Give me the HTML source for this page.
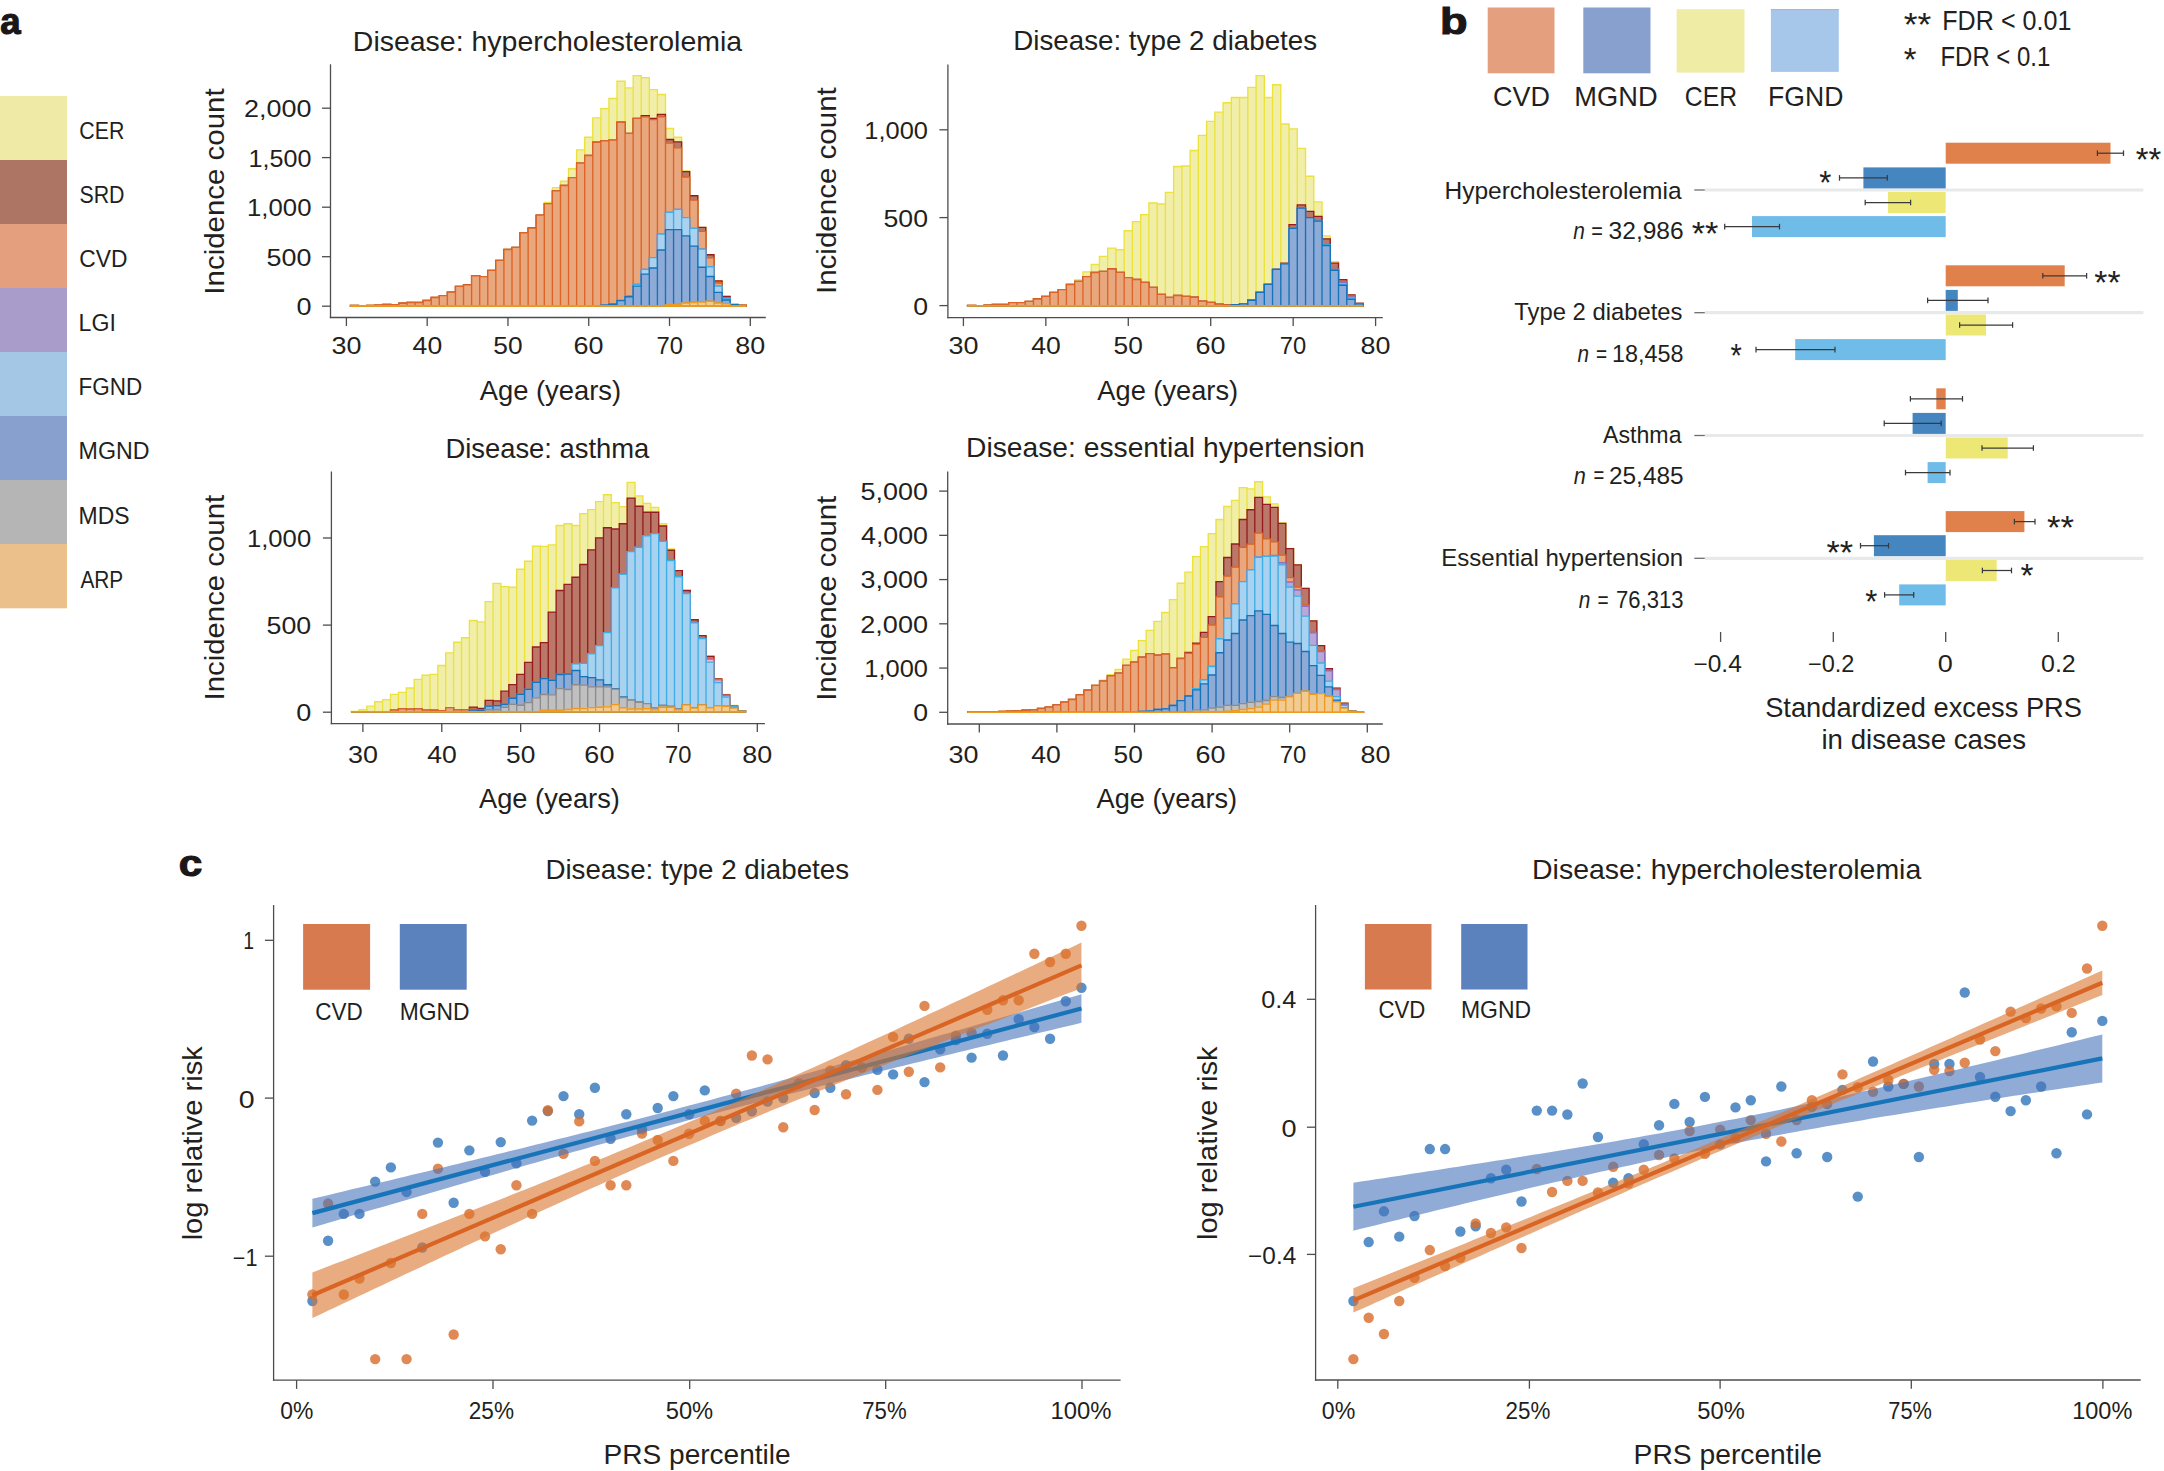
<!DOCTYPE html>
<html><head><meta charset="utf-8"><title>Figure</title>
<style>html,body{margin:0;padding:0;background:#fff;}svg{display:block;}
text{font-family:'Liberation Sans', Arial, Helvetica, sans-serif;}</style></head>
<body><svg width="2164" height="1471" viewBox="0 0 2164 1471">
<rect width="2164" height="1471" fill="#fff"/>
<rect x="0" y="96" width="67" height="64.3" fill="#efeaa6"/>
<rect x="0" y="160" width="67" height="64.3" fill="#ad7563"/>
<rect x="0" y="224" width="67" height="64.3" fill="#e4a07e"/>
<rect x="0" y="288" width="67" height="64.3" fill="#a99ccb"/>
<rect x="0" y="352" width="67" height="64.3" fill="#a5c7e6"/>
<rect x="0" y="416" width="67" height="64.3" fill="#88a0cd"/>
<rect x="0" y="480" width="67" height="64.3" fill="#b4b5b4"/>
<rect x="0" y="544" width="67" height="64.3" fill="#ecc08b"/>
<text x="79.33" y="138.9" font-size="23.5" fill="#231f20" textLength="45" lengthAdjust="spacingAndGlyphs">CER</text>
<text x="79.44" y="203" font-size="23.5" fill="#231f20" textLength="45.05" lengthAdjust="spacingAndGlyphs">SRD</text>
<text x="79.26" y="267.1" font-size="23.5" fill="#231f20" textLength="48.2" lengthAdjust="spacingAndGlyphs">CVD</text>
<text x="78.55" y="331.2" font-size="23.5" fill="#231f20" textLength="37.32" lengthAdjust="spacingAndGlyphs">LGI</text>
<text x="78.6" y="395.3" font-size="23.5" fill="#231f20" textLength="63.68" lengthAdjust="spacingAndGlyphs">FGND</text>
<text x="78.54" y="459.4" font-size="23.5" fill="#231f20" textLength="70.97" lengthAdjust="spacingAndGlyphs">MGND</text>
<text x="78.56" y="523.5" font-size="23.5" fill="#231f20" textLength="51.07" lengthAdjust="spacingAndGlyphs">MDS</text>
<text x="80.4" y="587.6" font-size="23.5" fill="#231f20" textLength="42.87" lengthAdjust="spacingAndGlyphs">ARP</text>
<text x="0.29" y="34.2" font-size="36.2" font-weight="bold" fill="#1a1718" textLength="20.38" lengthAdjust="spacingAndGlyphs" stroke="#1a1718" stroke-width="1.1">a</text>
<text x="1440.07" y="33.7" font-size="37.3" font-weight="bold" fill="#1a1718" textLength="27.58" lengthAdjust="spacingAndGlyphs" stroke="#1a1718" stroke-width="1.1">b</text>
<text x="178.82" y="875.7" font-size="37" font-weight="bold" fill="#1a1718" textLength="23.5" lengthAdjust="spacingAndGlyphs" stroke="#1a1718" stroke-width="1.1">c</text>
<path d="M350.44 306V305.47H358.52V306ZM358.52 306V305.67H366.59V306ZM366.59 306V305.47H374.67V306ZM374.67 306V305.17H382.75V306ZM382.75 306V304.47H390.83V306ZM390.83 306V304.77H398.91V306ZM398.91 306V303.27H406.98V306ZM406.98 306V302.47H415.06V306ZM415.06 306V302.47H423.14V306ZM423.14 306V300.47H431.22V306ZM431.22 306V297.47H439.3V306ZM439.3 306V295.68H447.37V306ZM447.38 306V292.14H455.45V306ZM455.45 306V286.31H463.53V306ZM463.53 306V284.89H471.61V306ZM471.61 306V275.7H479.69V306ZM479.69 306V276.58H487.76V306ZM487.76 306V270.4H495.84V306ZM495.84 306V260.32H503.92V306ZM503.92 306V249.53H512V306ZM512 306V247.41H520.08V306ZM520.08 306V232.74H528.15V306ZM528.15 306V227.96H536.23V306ZM536.23 306V215.06H544.31V306ZM544.31 306V202.33H552.39V306ZM552.39 306V187.65H560.47V306ZM560.47 306V181.11H568.54V306ZM568.54 306V168.73H576.62V306ZM576.62 306V149.82H584.7V306ZM584.7 306V137.26H592.78V306ZM592.78 306V117.81H600.86V306ZM600.86 306V108.6H608.93V306ZM608.93 306V98.52H617.01V306ZM617.01 306V81.21H625.09V306ZM625.09 306V87.92H633.17V306ZM633.17 306V75.55H641.25V306ZM641.25 306V77.67H649.32V306ZM649.32 306V89.69H657.4V306ZM657.4 306V94.46H665.48V306ZM665.48 306V128.39H673.56V306ZM673.56 306V137.22H681.64V306ZM681.64 306V170.8H689.71V306ZM689.71 306V195.71H697.79V306ZM697.79 306V227.34H705.87V306ZM705.87 306V254.73H713.95V306ZM713.95 306V280.89H722.03V306ZM722.03 306V296.44H730.1V306ZM730.11 306V304.39H738.18V306ZM738.18 306V305.27H746.26V306Z" fill="#f1eea9" stroke="#ebe23c" stroke-width="1.35"/>
<path d="M350.44 306V305.47H358.52V306ZM358.52 306V305.67H366.59V306ZM366.59 306V305.47H374.67V306ZM374.67 306V305.17H382.75V306ZM382.75 306V304.47H390.83V306ZM390.83 306V304.77H398.91V306ZM398.91 306V303.27H406.98V306ZM406.98 306V302.47H415.06V306ZM415.06 306V302.47H423.14V306ZM423.14 306V300.47H431.22V306ZM431.22 306V297.47H439.3V306ZM439.3 306V295.68H447.37V306ZM447.38 306V292.14H455.45V306ZM455.45 306V286.31H463.53V306ZM463.53 306V284.89H471.61V306ZM471.61 306V275.7H479.69V306ZM479.69 306V276.58H487.76V306ZM487.76 306V270.4H495.84V306ZM495.84 306V260.32H503.92V306ZM503.92 306V249.53H512V306ZM512 306V247.41H520.08V306ZM520.08 306V232.74H528.15V306ZM528.15 306V227.96H536.23V306ZM536.23 306V215.06H544.31V306ZM544.31 306V203.56H552.39V306ZM552.39 306V190.83H560.47V306ZM560.47 306V185.53H568.54V306ZM568.54 306V177.57H576.62V306ZM576.62 306V163.08H584.7V306ZM584.7 306V155.47H592.78V306ZM592.78 306V142.21H600.86V306ZM600.86 306V140.76H608.93V306ZM608.93 306V140.05H617.01V306ZM617.01 306V122.2H625.09V306ZM625.09 306V133.33H633.17V306ZM633.17 306V118.31H641.25V306ZM641.25 306V115.66H649.32V306ZM649.32 306V118.31H657.4V306ZM657.4 306V114.43H665.48V306ZM665.48 306V139.52H673.56V306ZM673.56 306V141.82H681.64V306ZM681.64 306V171.68H689.71V306ZM689.71 306V195.71H697.79V306ZM697.79 306V227.34H705.87V306ZM705.87 306V254.73H713.95V306ZM713.95 306V280.89H722.03V306ZM722.03 306V296.44H730.1V306ZM730.11 306V304.39H738.18V306ZM738.18 306V305.27H746.26V306Z" fill="#b97868" stroke="#961c20" stroke-width="1.35"/>
<path d="M350.44 306V305.47H358.52V306ZM358.52 306V305.67H366.59V306ZM366.59 306V305.47H374.67V306ZM374.67 306V305.17H382.75V306ZM382.75 306V304.47H390.83V306ZM390.83 306V304.77H398.91V306ZM398.91 306V303.27H406.98V306ZM406.98 306V302.47H415.06V306ZM415.06 306V302.47H423.14V306ZM423.14 306V300.47H431.22V306ZM431.22 306V297.47H439.3V306ZM439.3 306V295.68H447.37V306ZM447.38 306V292.14H455.45V306ZM455.45 306V286.31H463.53V306ZM463.53 306V284.89H471.61V306ZM471.61 306V275.7H479.69V306ZM479.69 306V276.58H487.76V306ZM487.76 306V270.4H495.84V306ZM495.84 306V260.32H503.92V306ZM503.92 306V249.53H512V306ZM512 306V247.41H520.08V306ZM520.08 306V232.74H528.15V306ZM528.15 306V227.96H536.23V306ZM536.23 306V215.06H544.31V306ZM544.31 306V203.56H552.39V306ZM552.39 306V190.83H560.47V306ZM560.47 306V185.53H568.54V306ZM568.54 306V177.57H576.62V306ZM576.62 306V163.08H584.7V306ZM584.7 306V155.47H592.78V306ZM592.78 306V142.21H600.86V306ZM600.86 306V140.76H608.93V306ZM608.93 306V140.05H617.01V306ZM617.01 306V122.2H625.09V306ZM625.09 306V133.33H633.17V306ZM633.17 306V118.31H641.25V306ZM641.25 306V116.9H649.32V306ZM649.32 306V119.55H657.4V306ZM657.4 306V116.9H665.48V306ZM665.48 306V143.05H673.56V306ZM673.56 306V147.82H681.64V306ZM681.64 306V176.98H689.71V306ZM689.71 306V200.13H697.79V306ZM697.79 306V231.41H705.87V306ZM705.87 306V257.91H713.95V306ZM713.95 306V283.01H722.03V306ZM722.03 306V297.67H730.1V306ZM730.11 306V304.57H738.18V306ZM738.18 306V305.45H746.26V306Z" fill="#e9a77e" stroke="#dc6426" stroke-width="1.35"/>
<path d="M350.44 306V306H358.52V306ZM358.52 306V306H366.59V306ZM366.59 306V306H374.67V306ZM374.67 306V306H382.75V306ZM382.75 306V306H390.83V306ZM390.83 306V306H398.91V306ZM398.91 306V306H406.98V306ZM406.98 306V306H415.06V306ZM415.06 306V306H423.14V306ZM423.14 306V306H431.22V306ZM431.22 306V306H439.3V306ZM439.3 306V306H447.37V306ZM447.38 306V306H455.45V306ZM455.45 306V306H463.53V306ZM463.53 306V306H471.61V306ZM471.61 306V306H479.69V306ZM479.69 306V306H487.76V306ZM487.76 306V306H495.84V306ZM495.84 306V306H503.92V306ZM503.92 306V306H512V306ZM512 306V306H520.08V306ZM520.08 306V306H528.15V306ZM528.15 306V306H536.23V306ZM536.23 306V306H544.31V306ZM544.31 306V306H552.39V306ZM552.39 306V306H560.47V306ZM560.47 306V306H568.54V306ZM568.54 306V306H576.62V306ZM576.62 306V306H584.7V306ZM584.7 306V306H592.78V306ZM592.78 306V306H600.86V306ZM600.86 306V305.1H608.93V306ZM608.93 306V304.21H617.01V306ZM617.01 306V300.33H625.09V306ZM625.09 306V295.55H633.17V306ZM633.17 306V284.42H641.25V306ZM641.25 306V269.4H649.32V306ZM649.32 306V257.56H657.4V306ZM657.4 306V234.06H665.48V306ZM665.48 306V212.32H673.56V306ZM673.56 306V209.32H681.64V306ZM681.64 306V217.63H689.71V306ZM689.71 306V228.4H697.79V306ZM697.79 306V249.08H705.87V306ZM705.87 306V266.75H713.95V306ZM713.95 306V286.19H722.03V306ZM722.03 306V298.56H730.1V306ZM730.11 306V304.57H738.18V306ZM738.18 306V306H746.26V306Z" fill="#b8a8d8" stroke="#8f6dc0" stroke-width="1.35"/>
<path d="M350.44 306V306H358.52V306ZM358.52 306V306H366.59V306ZM366.59 306V306H374.67V306ZM374.67 306V306H382.75V306ZM382.75 306V306H390.83V306ZM390.83 306V306H398.91V306ZM398.91 306V306H406.98V306ZM406.98 306V306H415.06V306ZM415.06 306V306H423.14V306ZM423.14 306V306H431.22V306ZM431.22 306V306H439.3V306ZM439.3 306V306H447.37V306ZM447.38 306V306H455.45V306ZM455.45 306V306H463.53V306ZM463.53 306V306H471.61V306ZM471.61 306V306H479.69V306ZM479.69 306V306H487.76V306ZM487.76 306V306H495.84V306ZM495.84 306V306H503.92V306ZM503.92 306V306H512V306ZM512 306V306H520.08V306ZM520.08 306V306H528.15V306ZM528.15 306V306H536.23V306ZM536.23 306V306H544.31V306ZM544.31 306V306H552.39V306ZM552.39 306V306H560.47V306ZM560.47 306V306H568.54V306ZM568.54 306V306H576.62V306ZM576.62 306V306H584.7V306ZM584.7 306V306H592.78V306ZM592.78 306V306H600.86V306ZM600.86 306V305.1H608.93V306ZM608.93 306V304.21H617.01V306ZM617.01 306V300.33H625.09V306ZM625.09 306V295.55H633.17V306ZM633.17 306V284.42H641.25V306ZM641.25 306V269.4H649.32V306ZM649.32 306V257.56H657.4V306ZM657.4 306V234.06H665.48V306ZM665.48 306V212.32H673.56V306ZM673.56 306V209.32H681.64V306ZM681.64 306V217.63H689.71V306ZM689.71 306V228.4H697.79V306ZM697.79 306V249.08H705.87V306ZM705.87 306V266.75H713.95V306ZM713.95 306V286.19H722.03V306ZM722.03 306V298.56H730.1V306ZM730.11 306V304.57H738.18V306ZM738.18 306V306H746.26V306Z" fill="#a8d2f0" stroke="#3eaee6" stroke-width="1.35"/>
<path d="M350.44 306V306H358.52V306ZM358.52 306V306H366.59V306ZM366.59 306V306H374.67V306ZM374.67 306V306H382.75V306ZM382.75 306V306H390.83V306ZM390.83 306V306H398.91V306ZM398.91 306V306H406.98V306ZM406.98 306V306H415.06V306ZM415.06 306V306H423.14V306ZM423.14 306V306H431.22V306ZM431.22 306V306H439.3V306ZM439.3 306V306H447.37V306ZM447.38 306V306H455.45V306ZM455.45 306V306H463.53V306ZM463.53 306V306H471.61V306ZM471.61 306V306H479.69V306ZM479.69 306V306H487.76V306ZM487.76 306V306H495.84V306ZM495.84 306V306H503.92V306ZM503.92 306V306H512V306ZM512 306V306H520.08V306ZM520.08 306V306H528.15V306ZM528.15 306V306H536.23V306ZM536.23 306V306H544.31V306ZM544.31 306V306H552.39V306ZM552.39 306V306H560.47V306ZM560.47 306V306H568.54V306ZM568.54 306V306H576.62V306ZM576.62 306V306H584.7V306ZM584.7 306V306H592.78V306ZM592.78 306V306H600.86V306ZM600.86 306V305.1H608.93V306ZM608.93 306V304.21H617.01V306ZM617.01 306V300.68H625.09V306ZM625.09 306V296.79H633.17V306ZM633.17 306V286.19H641.25V306ZM641.25 306V274.17H649.32V306ZM649.32 306V267.99H657.4V306ZM657.4 306V249.96H665.48V306ZM665.48 306V229.64H673.56V306ZM673.56 306V229.64H681.64V306ZM681.64 306V235.83H689.71V306ZM689.71 306V246.08H697.79V306ZM697.79 306V267.28H705.87V306ZM705.87 306V276.47H713.95V306ZM713.95 306V292.37H722.03V306ZM722.03 306V299.97H730.1V306ZM730.11 306V304.57H738.18V306ZM738.18 306V306H746.26V306Z" fill="#8eaad6" stroke="#1473b9" stroke-width="1.35"/>
<path d="M350.44 306V306H358.52V306ZM358.52 306V306H366.59V306ZM366.59 306V306H374.67V306ZM374.67 306V306H382.75V306ZM382.75 306V306H390.83V306ZM390.83 306V306H398.91V306ZM398.91 306V306H406.98V306ZM406.98 306V306H415.06V306ZM415.06 306V306H423.14V306ZM423.14 306V306H431.22V306ZM431.22 306V306H439.3V306ZM439.3 306V306H447.37V306ZM447.38 306V306H455.45V306ZM455.45 306V306H463.53V306ZM463.53 306V306H471.61V306ZM471.61 306V306H479.69V306ZM479.69 306V306H487.76V306ZM487.76 306V306H495.84V306ZM495.84 306V306H503.92V306ZM503.92 306V306H512V306ZM512 306V306H520.08V306ZM520.08 306V306H528.15V306ZM528.15 306V306H536.23V306ZM536.23 306V306H544.31V306ZM544.31 306V306H552.39V306ZM552.39 306V306H560.47V306ZM560.47 306V306H568.54V306ZM568.54 306V306H576.62V306ZM576.62 306V306H584.7V306ZM584.7 306V306H592.78V306ZM592.78 306V306H600.86V306ZM600.86 306V306H608.93V306ZM608.93 306V306H617.01V306ZM617.01 306V306H625.09V306ZM625.09 306V306H633.17V306ZM633.17 306V306H641.25V306ZM641.25 306V306H649.32V306ZM649.32 306V306H657.4V306ZM657.4 306V306H665.48V306ZM665.48 306V304.74H673.56V306ZM673.56 306V304.39H681.64V306ZM681.64 306V302.98H689.71V306ZM689.71 306V302.45H697.79V306ZM697.79 306V302.09H705.87V306ZM705.87 306V301.21H713.95V306ZM713.95 306V302.98H722.03V306ZM722.03 306V303.86H730.1V306ZM730.11 306V306H738.18V306ZM738.18 306V306H746.26V306Z" fill="#c0c0c0" stroke="#8c8c8c" stroke-width="1.35"/>
<path d="M350.44 306V306H358.52V306ZM358.52 306V306H366.59V306ZM366.59 306V306H374.67V306ZM374.67 306V306H382.75V306ZM382.75 306V306H390.83V306ZM390.83 306V306H398.91V306ZM398.91 306V306H406.98V306ZM406.98 306V306H415.06V306ZM415.06 306V306H423.14V306ZM423.14 306V306H431.22V306ZM431.22 306V306H439.3V306ZM439.3 306V306H447.37V306ZM447.38 306V306H455.45V306ZM455.45 306V306H463.53V306ZM463.53 306V306H471.61V306ZM471.61 306V306H479.69V306ZM479.69 306V306H487.76V306ZM487.76 306V306H495.84V306ZM495.84 306V306H503.92V306ZM503.92 306V306H512V306ZM512 306V306H520.08V306ZM520.08 306V306H528.15V306ZM528.15 306V306H536.23V306ZM536.23 306V306H544.31V306ZM544.31 306V306H552.39V306ZM552.39 306V306H560.47V306ZM560.47 306V306H568.54V306ZM568.54 306V306H576.62V306ZM576.62 306V306H584.7V306ZM584.7 306V306H592.78V306ZM592.78 306V306H600.86V306ZM600.86 306V306H608.93V306ZM608.93 306V306H617.01V306ZM617.01 306V306H625.09V306ZM625.09 306V306H633.17V306ZM633.17 306V306H641.25V306ZM641.25 306V306H649.32V306ZM649.32 306V306H657.4V306ZM657.4 306V306H665.48V306ZM665.48 306V304.74H673.56V306ZM673.56 306V304.39H681.64V306ZM681.64 306V302.98H689.71V306ZM689.71 306V302.45H697.79V306ZM697.79 306V302.09H705.87V306ZM705.87 306V301.21H713.95V306ZM713.95 306V302.98H722.03V306ZM722.03 306V303.86H730.1V306ZM730.11 306V306H738.18V306ZM738.18 306V306H746.26V306Z" fill="#f2cb92" stroke="#ee9a1e" stroke-width="1.35"/>
<line x1="350.44" y1="306" x2="746.26" y2="306" stroke="#ee9a1e" stroke-width="1.6"/>
<line x1="330.5" y1="64.3" x2="330.5" y2="318.15" stroke="#4d4d4d" stroke-width="1.3"/>
<line x1="329.85" y1="317.5" x2="765.8" y2="317.5" stroke="#4d4d4d" stroke-width="1.3"/>
<line x1="322" y1="306.2" x2="330.5" y2="306.2" stroke="#4d4d4d" stroke-width="1.3"/>
<line x1="322" y1="256.7" x2="330.5" y2="256.7" stroke="#4d4d4d" stroke-width="1.3"/>
<line x1="322" y1="207.2" x2="330.5" y2="207.2" stroke="#4d4d4d" stroke-width="1.3"/>
<line x1="322" y1="157.6" x2="330.5" y2="157.6" stroke="#4d4d4d" stroke-width="1.3"/>
<line x1="322" y1="108.2" x2="330.5" y2="108.2" stroke="#4d4d4d" stroke-width="1.3"/>
<line x1="346.4" y1="317.5" x2="346.4" y2="326" stroke="#4d4d4d" stroke-width="1.3"/>
<line x1="427.18" y1="317.5" x2="427.18" y2="326" stroke="#4d4d4d" stroke-width="1.3"/>
<line x1="507.96" y1="317.5" x2="507.96" y2="326" stroke="#4d4d4d" stroke-width="1.3"/>
<line x1="588.74" y1="317.5" x2="588.74" y2="326" stroke="#4d4d4d" stroke-width="1.3"/>
<line x1="669.52" y1="317.5" x2="669.52" y2="326" stroke="#4d4d4d" stroke-width="1.3"/>
<line x1="750.3" y1="317.5" x2="750.3" y2="326" stroke="#4d4d4d" stroke-width="1.3"/>
<text x="296.48" y="315.1" font-size="23.4" fill="#231f20" textLength="15.06" lengthAdjust="spacingAndGlyphs">0</text>
<text x="266.62" y="265.6" font-size="23.4" fill="#231f20" textLength="44.91" lengthAdjust="spacingAndGlyphs">500</text>
<text x="247.07" y="216.1" font-size="23.4" fill="#231f20" textLength="64.4" lengthAdjust="spacingAndGlyphs">1,000</text>
<text x="248.62" y="166.5" font-size="23.4" fill="#231f20" textLength="62.83" lengthAdjust="spacingAndGlyphs">1,500</text>
<text x="244.05" y="117.1" font-size="23.4" fill="#231f20" textLength="67.46" lengthAdjust="spacingAndGlyphs">2,000</text>
<text x="331.44" y="354.3" font-size="23.4" fill="#231f20" textLength="29.98" lengthAdjust="spacingAndGlyphs">30</text>
<text x="412.63" y="354.3" font-size="23.4" fill="#231f20" textLength="29.56" lengthAdjust="spacingAndGlyphs">40</text>
<text x="493.31" y="354.3" font-size="23.4" fill="#231f20" textLength="29.3" lengthAdjust="spacingAndGlyphs">50</text>
<text x="573.59" y="354.3" font-size="23.4" fill="#231f20" textLength="30.03" lengthAdjust="spacingAndGlyphs">60</text>
<text x="656.58" y="354.3" font-size="23.4" fill="#231f20" textLength="26.44" lengthAdjust="spacingAndGlyphs">70</text>
<text x="735.31" y="354.3" font-size="23.4" fill="#231f20" textLength="29.91" lengthAdjust="spacingAndGlyphs">80</text>
<text x="352.82" y="50.7" font-size="27.8" fill="#231f20" textLength="389.34" lengthAdjust="spacingAndGlyphs">Disease: hypercholesterolemia</text>
<text transform="translate(223.6,292) rotate(-90)" x="-2.65" y="0" font-size="27.9" fill="#231f20" textLength="206.2" lengthAdjust="spacingAndGlyphs">Incidence count</text>
<text x="479.7" y="399.6" font-size="27.2" fill="#231f20" textLength="141.47" lengthAdjust="spacingAndGlyphs">Age (years)</text>
<path d="M967.52 305.8V305.3H975.77V305.8ZM975.77 305.8V305.6H984.01V305.8ZM984.01 305.8V305.2H992.25V305.8ZM992.25 305.8V304.5H1000.5V305.8ZM1000.5 305.8V304.3H1008.74V305.8ZM1008.74 305.8V302.6H1016.99V305.8ZM1016.99 305.8V302.6H1025.23V305.8ZM1025.23 305.8V301.36H1033.47V305.8ZM1033.47 305.8V298.98H1041.72V305.8ZM1041.72 305.8V296.41H1049.96V305.8ZM1049.96 305.8V292.32H1058.21V305.8ZM1058.21 305.8V289.65H1066.45V305.8ZM1066.45 305.8V284.51H1074.69V305.8ZM1074.69 305.8V279.94H1082.94V305.8ZM1082.94 305.8V271.85H1091.18V305.8ZM1091.18 305.8V264.52H1099.43V305.8ZM1099.43 305.8V256.43H1107.67V305.8ZM1107.67 305.8V248.06H1115.91V305.8ZM1115.91 305.8V249.77H1124.16V305.8ZM1124.16 305.8V230.73H1132.4V305.8ZM1132.4 305.8V221.6H1140.65V305.8ZM1140.65 305.8V214.55H1148.89V305.8ZM1148.89 305.8V203.03H1157.13V305.8ZM1157.13 305.8V203.99H1165.38V305.8ZM1165.38 305.8V192.37H1173.62V305.8ZM1173.62 305.8V166.54H1181.87V305.8ZM1181.87 305.8V166.01H1190.11V305.8ZM1190.11 305.8V150.46H1198.35V305.8ZM1198.35 305.8V135.44H1206.6V305.8ZM1206.6 305.8V121.31H1214.84V305.8ZM1214.84 305.8V112.12H1223.09V305.8ZM1223.09 305.8V102.76H1231.33V305.8ZM1231.33 305.8V97.46H1239.57V305.8ZM1239.57 305.8V97.46H1247.82V305.8ZM1247.82 305.8V87.39H1256.06V305.8ZM1256.06 305.8V75.55H1264.31V305.8ZM1264.31 305.8V97.46H1272.55V305.8ZM1272.55 305.8V84.73H1280.79V305.8ZM1280.79 305.8V123.96H1289.04V305.8ZM1289.04 305.8V128.9H1297.28V305.8ZM1297.28 305.8V148.34H1305.53V305.8ZM1305.53 305.8V176.25H1313.77V305.8ZM1313.77 305.8V201.87H1322.01V305.8ZM1322.01 305.8V235.8H1330.26V305.8ZM1330.26 305.8V261.77H1338.5V305.8ZM1338.5 305.8V279.61H1346.75V305.8ZM1346.75 305.8V294.98H1354.99V305.8ZM1354.99 305.8V303.3H1363.23V305.8Z" fill="#f1eea9" stroke="#ebe23c" stroke-width="1.35"/>
<path d="M967.52 305.8V305.3H975.77V305.8ZM975.77 305.8V305.6H984.01V305.8ZM984.01 305.8V305.2H992.25V305.8ZM992.25 305.8V304.5H1000.5V305.8ZM1000.5 305.8V304.3H1008.74V305.8ZM1008.74 305.8V302.6H1016.99V305.8ZM1016.99 305.8V302.6H1025.23V305.8ZM1025.23 305.8V301.36H1033.47V305.8ZM1033.47 305.8V298.98H1041.72V305.8ZM1041.72 305.8V296.41H1049.96V305.8ZM1049.96 305.8V292.32H1058.21V305.8ZM1058.21 305.8V289.65H1066.45V305.8ZM1066.45 305.8V284.51H1074.69V305.8ZM1074.69 305.8V281.37H1082.94V305.8ZM1082.94 305.8V276.61H1091.18V305.8ZM1091.18 305.8V272.52H1099.43V305.8ZM1099.43 305.8V271.38H1107.67V305.8ZM1107.67 305.8V269H1115.91V305.8ZM1115.91 305.8V272.33H1124.16V305.8ZM1124.16 305.8V277.56H1132.4V305.8ZM1132.4 305.8V279.47H1140.65V305.8ZM1140.65 305.8V282.32H1148.89V305.8ZM1148.89 305.8V287.37H1157.13V305.8ZM1157.13 305.8V294.41H1165.38V305.8ZM1165.38 305.8V297.36H1173.62V305.8ZM1173.62 305.8V295.51H1181.87V305.8ZM1181.87 305.8V296.4H1190.11V305.8ZM1190.11 305.8V297.28H1198.35V305.8ZM1198.35 305.8V301.17H1206.6V305.8ZM1206.6 305.8V302.4H1214.84V305.8ZM1214.84 305.8V304.17H1223.09V305.8ZM1223.09 305.8V304.88H1231.33V305.8ZM1231.33 305.8V304.7H1239.57V305.8ZM1239.57 305.8V303.82H1247.82V305.8ZM1247.82 305.8V300.28H1256.06V305.8ZM1256.06 305.8V292.33H1264.31V305.8ZM1264.31 305.8V284.38H1272.55V305.8ZM1272.55 305.8V269.36H1280.79V305.8ZM1280.79 305.8V263.18H1289.04V305.8ZM1289.04 305.8V224.66H1297.28V305.8ZM1297.28 305.8V204.88H1305.53V305.8ZM1305.53 305.8V211.41H1313.77V305.8ZM1313.77 305.8V216.36H1322.01V305.8ZM1322.01 305.8V238.8H1330.26V305.8ZM1330.26 305.8V263.18H1338.5V305.8ZM1338.5 305.8V279.61H1346.75V305.8ZM1346.75 305.8V294.98H1354.99V305.8ZM1354.99 305.8V303.3H1363.23V305.8Z" fill="#b97868" stroke="#961c20" stroke-width="1.35"/>
<path d="M967.52 305.8V305.3H975.77V305.8ZM975.77 305.8V305.6H984.01V305.8ZM984.01 305.8V305.2H992.25V305.8ZM992.25 305.8V304.5H1000.5V305.8ZM1000.5 305.8V304.3H1008.74V305.8ZM1008.74 305.8V302.6H1016.99V305.8ZM1016.99 305.8V302.6H1025.23V305.8ZM1025.23 305.8V301.36H1033.47V305.8ZM1033.47 305.8V298.98H1041.72V305.8ZM1041.72 305.8V296.41H1049.96V305.8ZM1049.96 305.8V292.32H1058.21V305.8ZM1058.21 305.8V289.65H1066.45V305.8ZM1066.45 305.8V284.51H1074.69V305.8ZM1074.69 305.8V281.37H1082.94V305.8ZM1082.94 305.8V276.61H1091.18V305.8ZM1091.18 305.8V272.52H1099.43V305.8ZM1099.43 305.8V271.38H1107.67V305.8ZM1107.67 305.8V269H1115.91V305.8ZM1115.91 305.8V272.33H1124.16V305.8ZM1124.16 305.8V277.56H1132.4V305.8ZM1132.4 305.8V279.47H1140.65V305.8ZM1140.65 305.8V282.32H1148.89V305.8ZM1148.89 305.8V287.37H1157.13V305.8ZM1157.13 305.8V294.41H1165.38V305.8ZM1165.38 305.8V297.36H1173.62V305.8ZM1173.62 305.8V295.51H1181.87V305.8ZM1181.87 305.8V296.4H1190.11V305.8ZM1190.11 305.8V297.28H1198.35V305.8ZM1198.35 305.8V301.17H1206.6V305.8ZM1206.6 305.8V302.4H1214.84V305.8ZM1214.84 305.8V304.17H1223.09V305.8ZM1223.09 305.8V304.88H1231.33V305.8ZM1231.33 305.8V304.7H1239.57V305.8ZM1239.57 305.8V303.82H1247.82V305.8ZM1247.82 305.8V300.28H1256.06V305.8ZM1256.06 305.8V292.33H1264.31V305.8ZM1264.31 305.8V284.38H1272.55V305.8ZM1272.55 305.8V269.36H1280.79V305.8ZM1280.79 305.8V263.89H1289.04V305.8ZM1289.04 305.8V228.37H1297.28V305.8ZM1297.28 305.8V208.06H1305.53V305.8ZM1305.53 305.8V217.6H1313.77V305.8ZM1313.77 305.8V221.13H1322.01V305.8ZM1322.01 305.8V244.63H1330.26V305.8ZM1330.26 305.8V269.36H1338.5V305.8ZM1338.5 305.8V281.5H1346.75V305.8ZM1346.75 305.8V296H1354.99V305.8ZM1354.99 305.8V303.3H1363.23V305.8Z" fill="#e9a77e" stroke="#dc6426" stroke-width="1.35"/>
<path d="M967.52 305.8V305.8H975.77V305.8ZM975.77 305.8V305.8H984.01V305.8ZM984.01 305.8V305.8H992.25V305.8ZM992.25 305.8V305.8H1000.5V305.8ZM1000.5 305.8V305.8H1008.74V305.8ZM1008.74 305.8V305.8H1016.99V305.8ZM1016.99 305.8V305.8H1025.23V305.8ZM1025.23 305.8V305.8H1033.47V305.8ZM1033.47 305.8V305.8H1041.72V305.8ZM1041.72 305.8V305.8H1049.96V305.8ZM1049.96 305.8V305.8H1058.21V305.8ZM1058.21 305.8V305.8H1066.45V305.8ZM1066.45 305.8V305.8H1074.69V305.8ZM1074.69 305.8V305.8H1082.94V305.8ZM1082.94 305.8V305.8H1091.18V305.8ZM1091.18 305.8V305.8H1099.43V305.8ZM1099.43 305.8V305.8H1107.67V305.8ZM1107.67 305.8V305.8H1115.91V305.8ZM1115.91 305.8V305.8H1124.16V305.8ZM1124.16 305.8V305.8H1132.4V305.8ZM1132.4 305.8V305.8H1140.65V305.8ZM1140.65 305.8V305.8H1148.89V305.8ZM1148.89 305.8V305.8H1157.13V305.8ZM1157.13 305.8V305.8H1165.38V305.8ZM1165.38 305.8V305.8H1173.62V305.8ZM1173.62 305.8V305.8H1181.87V305.8ZM1181.87 305.8V305.8H1190.11V305.8ZM1190.11 305.8V305.8H1198.35V305.8ZM1198.35 305.8V305.8H1206.6V305.8ZM1206.6 305.8V305.8H1214.84V305.8ZM1214.84 305.8V305.8H1223.09V305.8ZM1223.09 305.8V305.8H1231.33V305.8ZM1231.33 305.8V304.7H1239.57V305.8ZM1239.57 305.8V303.82H1247.82V305.8ZM1247.82 305.8V300.28H1256.06V305.8ZM1256.06 305.8V292.33H1264.31V305.8ZM1264.31 305.8V284.38H1272.55V305.8ZM1272.55 305.8V269.36H1280.79V305.8ZM1280.79 305.8V263.89H1289.04V305.8ZM1289.04 305.8V228.37H1297.28V305.8ZM1297.28 305.8V208.06H1305.53V305.8ZM1305.53 305.8V217.6H1313.77V305.8ZM1313.77 305.8V221.13H1322.01V305.8ZM1322.01 305.8V244.63H1330.26V305.8ZM1330.26 305.8V269.36H1338.5V305.8ZM1338.5 305.8V282.3H1346.75V305.8ZM1346.75 305.8V296.8H1354.99V305.8ZM1354.99 305.8V303.3H1363.23V305.8Z" fill="#b8a8d8" stroke="#8f6dc0" stroke-width="1.35"/>
<path d="M967.52 305.8V305.8H975.77V305.8ZM975.77 305.8V305.8H984.01V305.8ZM984.01 305.8V305.8H992.25V305.8ZM992.25 305.8V305.8H1000.5V305.8ZM1000.5 305.8V305.8H1008.74V305.8ZM1008.74 305.8V305.8H1016.99V305.8ZM1016.99 305.8V305.8H1025.23V305.8ZM1025.23 305.8V305.8H1033.47V305.8ZM1033.47 305.8V305.8H1041.72V305.8ZM1041.72 305.8V305.8H1049.96V305.8ZM1049.96 305.8V305.8H1058.21V305.8ZM1058.21 305.8V305.8H1066.45V305.8ZM1066.45 305.8V305.8H1074.69V305.8ZM1074.69 305.8V305.8H1082.94V305.8ZM1082.94 305.8V305.8H1091.18V305.8ZM1091.18 305.8V305.8H1099.43V305.8ZM1099.43 305.8V305.8H1107.67V305.8ZM1107.67 305.8V305.8H1115.91V305.8ZM1115.91 305.8V305.8H1124.16V305.8ZM1124.16 305.8V305.8H1132.4V305.8ZM1132.4 305.8V305.8H1140.65V305.8ZM1140.65 305.8V305.8H1148.89V305.8ZM1148.89 305.8V305.8H1157.13V305.8ZM1157.13 305.8V305.8H1165.38V305.8ZM1165.38 305.8V305.8H1173.62V305.8ZM1173.62 305.8V305.8H1181.87V305.8ZM1181.87 305.8V305.8H1190.11V305.8ZM1190.11 305.8V305.8H1198.35V305.8ZM1198.35 305.8V305.8H1206.6V305.8ZM1206.6 305.8V305.8H1214.84V305.8ZM1214.84 305.8V305.8H1223.09V305.8ZM1223.09 305.8V305.8H1231.33V305.8ZM1231.33 305.8V304.7H1239.57V305.8ZM1239.57 305.8V303.82H1247.82V305.8ZM1247.82 305.8V300.28H1256.06V305.8ZM1256.06 305.8V292.33H1264.31V305.8ZM1264.31 305.8V284.38H1272.55V305.8ZM1272.55 305.8V269.36H1280.79V305.8ZM1280.79 305.8V263.89H1289.04V305.8ZM1289.04 305.8V228.37H1297.28V305.8ZM1297.28 305.8V208.06H1305.53V305.8ZM1305.53 305.8V217.6H1313.77V305.8ZM1313.77 305.8V221.13H1322.01V305.8ZM1322.01 305.8V244.63H1330.26V305.8ZM1330.26 305.8V269.36H1338.5V305.8ZM1338.5 305.8V284.38H1346.75V305.8ZM1346.75 305.8V298.52H1354.99V305.8ZM1354.99 305.8V303.82H1363.23V305.8Z" fill="#a8d2f0" stroke="#3eaee6" stroke-width="1.35"/>
<path d="M967.52 305.8V305.8H975.77V305.8ZM975.77 305.8V305.8H984.01V305.8ZM984.01 305.8V305.8H992.25V305.8ZM992.25 305.8V305.8H1000.5V305.8ZM1000.5 305.8V305.8H1008.74V305.8ZM1008.74 305.8V305.8H1016.99V305.8ZM1016.99 305.8V305.8H1025.23V305.8ZM1025.23 305.8V305.8H1033.47V305.8ZM1033.47 305.8V305.8H1041.72V305.8ZM1041.72 305.8V305.8H1049.96V305.8ZM1049.96 305.8V305.8H1058.21V305.8ZM1058.21 305.8V305.8H1066.45V305.8ZM1066.45 305.8V305.8H1074.69V305.8ZM1074.69 305.8V305.8H1082.94V305.8ZM1082.94 305.8V305.8H1091.18V305.8ZM1091.18 305.8V305.8H1099.43V305.8ZM1099.43 305.8V305.8H1107.67V305.8ZM1107.67 305.8V305.8H1115.91V305.8ZM1115.91 305.8V305.8H1124.16V305.8ZM1124.16 305.8V305.8H1132.4V305.8ZM1132.4 305.8V305.8H1140.65V305.8ZM1140.65 305.8V305.8H1148.89V305.8ZM1148.89 305.8V305.8H1157.13V305.8ZM1157.13 305.8V305.8H1165.38V305.8ZM1165.38 305.8V305.8H1173.62V305.8ZM1173.62 305.8V305.8H1181.87V305.8ZM1181.87 305.8V305.8H1190.11V305.8ZM1190.11 305.8V305.8H1198.35V305.8ZM1198.35 305.8V305.8H1206.6V305.8ZM1206.6 305.8V305.8H1214.84V305.8ZM1214.84 305.8V305.8H1223.09V305.8ZM1223.09 305.8V305.8H1231.33V305.8ZM1231.33 305.8V304.7H1239.57V305.8ZM1239.57 305.8V303.82H1247.82V305.8ZM1247.82 305.8V300.28H1256.06V305.8ZM1256.06 305.8V292.33H1264.31V305.8ZM1264.31 305.8V284.38H1272.55V305.8ZM1272.55 305.8V269.36H1280.79V305.8ZM1280.79 305.8V263.89H1289.04V305.8ZM1289.04 305.8V228.37H1297.28V305.8ZM1297.28 305.8V208.06H1305.53V305.8ZM1305.53 305.8V217.6H1313.77V305.8ZM1313.77 305.8V221.13H1322.01V305.8ZM1322.01 305.8V245.51H1330.26V305.8ZM1330.26 305.8V270.25H1338.5V305.8ZM1338.5 305.8V285.27H1346.75V305.8ZM1346.75 305.8V299.4H1354.99V305.8ZM1354.99 305.8V303.82H1363.23V305.8Z" fill="#8eaad6" stroke="#1473b9" stroke-width="1.35"/>
<path d="M967.52 305.8V305.8H975.77V305.8ZM975.77 305.8V305.8H984.01V305.8ZM984.01 305.8V305.8H992.25V305.8ZM992.25 305.8V305.8H1000.5V305.8ZM1000.5 305.8V305.8H1008.74V305.8ZM1008.74 305.8V305.8H1016.99V305.8ZM1016.99 305.8V305.8H1025.23V305.8ZM1025.23 305.8V305.8H1033.47V305.8ZM1033.47 305.8V305.8H1041.72V305.8ZM1041.72 305.8V305.8H1049.96V305.8ZM1049.96 305.8V305.8H1058.21V305.8ZM1058.21 305.8V305.8H1066.45V305.8ZM1066.45 305.8V305.8H1074.69V305.8ZM1074.69 305.8V305.8H1082.94V305.8ZM1082.94 305.8V305.8H1091.18V305.8ZM1091.18 305.8V305.8H1099.43V305.8ZM1099.43 305.8V305.8H1107.67V305.8ZM1107.67 305.8V305.8H1115.91V305.8ZM1115.91 305.8V305.8H1124.16V305.8ZM1124.16 305.8V305.8H1132.4V305.8ZM1132.4 305.8V305.8H1140.65V305.8ZM1140.65 305.8V305.8H1148.89V305.8ZM1148.89 305.8V305.8H1157.13V305.8ZM1157.13 305.8V305.8H1165.38V305.8ZM1165.38 305.8V305.8H1173.62V305.8ZM1173.62 305.8V305.8H1181.87V305.8ZM1181.87 305.8V305.8H1190.11V305.8ZM1190.11 305.8V305.8H1198.35V305.8ZM1198.35 305.8V305.8H1206.6V305.8ZM1206.6 305.8V305.8H1214.84V305.8ZM1214.84 305.8V305.8H1223.09V305.8ZM1223.09 305.8V305.8H1231.33V305.8ZM1231.33 305.8V305.8H1239.57V305.8ZM1239.57 305.8V305.8H1247.82V305.8ZM1247.82 305.8V305.8H1256.06V305.8ZM1256.06 305.8V305.8H1264.31V305.8ZM1264.31 305.8V305.8H1272.55V305.8ZM1272.55 305.8V305.8H1280.79V305.8ZM1280.79 305.8V305.8H1289.04V305.8ZM1289.04 305.8V305.8H1297.28V305.8ZM1297.28 305.8V305.8H1305.53V305.8ZM1305.53 305.8V305.8H1313.77V305.8ZM1313.77 305.8V305.8H1322.01V305.8ZM1322.01 305.8V305.8H1330.26V305.8ZM1330.26 305.8V305.8H1338.5V305.8ZM1338.5 305.8V305.8H1346.75V305.8ZM1346.75 305.8V305.8H1354.99V305.8ZM1354.99 305.8V305.8H1363.23V305.8Z" fill="#c0c0c0" stroke="#8c8c8c" stroke-width="1.35"/>
<path d="M967.52 305.8V305.8H975.77V305.8ZM975.77 305.8V305.8H984.01V305.8ZM984.01 305.8V305.8H992.25V305.8ZM992.25 305.8V305.8H1000.5V305.8ZM1000.5 305.8V305.8H1008.74V305.8ZM1008.74 305.8V305.8H1016.99V305.8ZM1016.99 305.8V305.8H1025.23V305.8ZM1025.23 305.8V305.8H1033.47V305.8ZM1033.47 305.8V305.8H1041.72V305.8ZM1041.72 305.8V305.8H1049.96V305.8ZM1049.96 305.8V305.8H1058.21V305.8ZM1058.21 305.8V305.8H1066.45V305.8ZM1066.45 305.8V305.8H1074.69V305.8ZM1074.69 305.8V305.8H1082.94V305.8ZM1082.94 305.8V305.8H1091.18V305.8ZM1091.18 305.8V305.8H1099.43V305.8ZM1099.43 305.8V305.8H1107.67V305.8ZM1107.67 305.8V305.8H1115.91V305.8ZM1115.91 305.8V305.8H1124.16V305.8ZM1124.16 305.8V305.8H1132.4V305.8ZM1132.4 305.8V305.8H1140.65V305.8ZM1140.65 305.8V305.8H1148.89V305.8ZM1148.89 305.8V305.8H1157.13V305.8ZM1157.13 305.8V305.8H1165.38V305.8ZM1165.38 305.8V305.8H1173.62V305.8ZM1173.62 305.8V305.8H1181.87V305.8ZM1181.87 305.8V305.8H1190.11V305.8ZM1190.11 305.8V305.8H1198.35V305.8ZM1198.35 305.8V305.8H1206.6V305.8ZM1206.6 305.8V305.8H1214.84V305.8ZM1214.84 305.8V305.8H1223.09V305.8ZM1223.09 305.8V305.8H1231.33V305.8ZM1231.33 305.8V305.8H1239.57V305.8ZM1239.57 305.8V305.8H1247.82V305.8ZM1247.82 305.8V305.8H1256.06V305.8ZM1256.06 305.8V305.8H1264.31V305.8ZM1264.31 305.8V305.8H1272.55V305.8ZM1272.55 305.8V305.8H1280.79V305.8ZM1280.79 305.8V305.8H1289.04V305.8ZM1289.04 305.8V305.8H1297.28V305.8ZM1297.28 305.8V305.8H1305.53V305.8ZM1305.53 305.8V305.8H1313.77V305.8ZM1313.77 305.8V305.8H1322.01V305.8ZM1322.01 305.8V305.8H1330.26V305.8ZM1330.26 305.8V305.8H1338.5V305.8ZM1338.5 305.8V305.8H1346.75V305.8ZM1346.75 305.8V305.8H1354.99V305.8ZM1354.99 305.8V305.8H1363.23V305.8Z" fill="#f2cb92" stroke="#ee9a1e" stroke-width="1.35"/>
<line x1="967.52" y1="305.8" x2="1363.23" y2="305.8" stroke="#ee9a1e" stroke-width="1.6"/>
<line x1="947.9" y1="64.4" x2="947.9" y2="318.25" stroke="#4d4d4d" stroke-width="1.3"/>
<line x1="947.25" y1="317.6" x2="1382.8" y2="317.6" stroke="#4d4d4d" stroke-width="1.3"/>
<line x1="939.4" y1="305.6" x2="947.9" y2="305.6" stroke="#4d4d4d" stroke-width="1.3"/>
<line x1="939.4" y1="217.6" x2="947.9" y2="217.6" stroke="#4d4d4d" stroke-width="1.3"/>
<line x1="939.4" y1="129.8" x2="947.9" y2="129.8" stroke="#4d4d4d" stroke-width="1.3"/>
<line x1="963.4" y1="317.6" x2="963.4" y2="326.1" stroke="#4d4d4d" stroke-width="1.3"/>
<line x1="1045.84" y1="317.6" x2="1045.84" y2="326.1" stroke="#4d4d4d" stroke-width="1.3"/>
<line x1="1128.28" y1="317.6" x2="1128.28" y2="326.1" stroke="#4d4d4d" stroke-width="1.3"/>
<line x1="1210.72" y1="317.6" x2="1210.72" y2="326.1" stroke="#4d4d4d" stroke-width="1.3"/>
<line x1="1293.16" y1="317.6" x2="1293.16" y2="326.1" stroke="#4d4d4d" stroke-width="1.3"/>
<line x1="1375.6" y1="317.6" x2="1375.6" y2="326.1" stroke="#4d4d4d" stroke-width="1.3"/>
<text x="913.2" y="314.5" font-size="23.4" fill="#231f20" textLength="14.83" lengthAdjust="spacingAndGlyphs">0</text>
<text x="883.53" y="226.5" font-size="23.4" fill="#231f20" textLength="44.49" lengthAdjust="spacingAndGlyphs">500</text>
<text x="864.29" y="138.7" font-size="23.4" fill="#231f20" textLength="63.66" lengthAdjust="spacingAndGlyphs">1,000</text>
<text x="948.44" y="354.4" font-size="23.4" fill="#231f20" textLength="29.98" lengthAdjust="spacingAndGlyphs">30</text>
<text x="1031.29" y="354.4" font-size="23.4" fill="#231f20" textLength="29.56" lengthAdjust="spacingAndGlyphs">40</text>
<text x="1113.63" y="354.4" font-size="23.4" fill="#231f20" textLength="29.3" lengthAdjust="spacingAndGlyphs">50</text>
<text x="1195.57" y="354.4" font-size="23.4" fill="#231f20" textLength="30.03" lengthAdjust="spacingAndGlyphs">60</text>
<text x="1279.82" y="354.4" font-size="23.4" fill="#231f20" textLength="26.44" lengthAdjust="spacingAndGlyphs">70</text>
<text x="1360.61" y="354.4" font-size="23.4" fill="#231f20" textLength="29.91" lengthAdjust="spacingAndGlyphs">80</text>
<text x="1013.18" y="50.3" font-size="27.8" fill="#231f20" textLength="303.97" lengthAdjust="spacingAndGlyphs">Disease: type 2 diabetes</text>
<text transform="translate(836.1,291.4) rotate(-90)" x="-2.66" y="0" font-size="27.9" fill="#231f20" textLength="206.81" lengthAdjust="spacingAndGlyphs">Incidence count</text>
<text x="1097.3" y="400.1" font-size="27.2" fill="#231f20" textLength="140.86" lengthAdjust="spacingAndGlyphs">Age (years)</text>
<path d="M351.07 711.8V711.47H358.96V711.8ZM358.96 711.8V709.7H366.84V711.8ZM366.84 711.8V706.17H374.73V711.8ZM374.73 711.8V701.75H382.62V711.8ZM382.62 711.8V699.63H390.51V711.8ZM390.51 711.8V694.33H398.4V711.8ZM398.4 711.8V692.39H406.28V711.8ZM406.28 711.8V687.97H414.17V711.8ZM414.17 711.8V679.31H422.06V711.8ZM422.06 711.8V675.25H429.95V711.8ZM429.95 711.8V674.36H437.84V711.8ZM437.84 711.8V665.53H445.72V711.8ZM445.72 711.8V652.81H453.61V711.8ZM453.61 711.8V642.21H461.5V711.8ZM461.5 711.8V637.79H469.39V711.8ZM469.39 711.8V620.48H477.28V711.8ZM477.28 711.8V621.89H485.16V711.8ZM485.16 711.8V601.57H493.05V711.8ZM493.05 711.8V583.37H500.94V711.8ZM500.94 711.8V586.55H508.83V711.8ZM508.83 711.8V587.26H516.72V711.8ZM516.72 711.8V569.24H524.6V711.8ZM524.6 711.8V561.29H532.49V711.8ZM532.49 711.8V546.27H540.38V711.8ZM540.38 711.8V546.33H548.27V711.8ZM548.27 711.8V544.92H556.16V711.8ZM556.16 711.8V525.47H564.04V711.8ZM564.04 711.8V523.7H571.93V711.8ZM571.93 711.8V525.47H579.82V711.8ZM579.82 711.8V513.62H587.71V711.8ZM587.71 711.8V509.55H595.6V711.8ZM595.6 711.8V501.6H603.48V711.8ZM603.48 711.8V494.7H611.37V711.8ZM611.37 711.8V502.66H619.26V711.8ZM619.26 711.8V506.55H627.15V711.8ZM627.15 711.8V482.33H635.04V711.8ZM635.04 711.8V495.94H642.92V711.8ZM642.92 711.8V503.37H650.81V711.8ZM650.81 711.8V507.43H658.7V711.8ZM658.7 711.8V523.7H666.59V711.8ZM666.59 711.8V548.98H674.48V711.8ZM674.48 711.8V570.55H682.36V711.8ZM682.36 711.8V590.53H690.25V711.8ZM690.25 711.8V619.7H698.14V711.8ZM698.14 711.8V635.62H706.03V711.8ZM706.03 711.8V655.95H713.92V711.8ZM713.92 711.8V678.58H721.8V711.8ZM721.8 711.8V694.49H729.69V711.8ZM729.69 711.8V705.45H737.58V711.8ZM737.58 711.8V711.29H745.47V711.8Z" fill="#f1eea9" stroke="#ebe23c" stroke-width="1.35"/>
<path d="M351.07 711.8V711.8H358.96V711.8ZM358.96 711.8V711.8H366.84V711.8ZM366.84 711.8V711.8H374.73V711.8ZM374.73 711.8V711.8H382.62V711.8ZM382.62 711.8V711.8H390.51V711.8ZM390.51 711.8V710.05H398.4V711.8ZM398.4 711.8V708.82H406.28V711.8ZM406.28 711.8V709.17H414.17V711.8ZM414.17 711.8V708.82H422.06V711.8ZM422.06 711.8V710.05H429.95V711.8ZM429.95 711.8V710.23H437.84V711.8ZM437.84 711.8V710.58H445.72V711.8ZM445.72 711.8V707.58H453.61V711.8ZM453.61 711.8V709.7H461.5V711.8ZM461.5 711.8V709.7H469.39V711.8ZM469.39 711.8V707.05H477.28V711.8ZM477.28 711.8V708.46H485.16V711.8ZM485.16 711.8V700.34H493.05V711.8ZM493.05 711.8V700.87H500.94V711.8ZM500.94 711.8V691.15H508.83V711.8ZM508.83 711.8V684.61H516.72V711.8ZM516.72 711.8V674.36H524.6V711.8ZM524.6 711.8V662.35H532.49V711.8ZM532.49 711.8V646.98H540.38V711.8ZM540.38 711.8V642.69H548.27V711.8ZM548.27 711.8V612.1H556.16V711.8ZM556.16 711.8V590.53H564.04V711.8ZM564.04 711.8V584.34H571.93V711.8ZM571.93 711.8V577.27H579.82V711.8ZM579.82 711.8V564.54H587.71V711.8ZM587.71 711.8V549.87H595.6V711.8ZM595.6 711.8V537.84H603.48V711.8ZM603.48 711.8V527.77H611.37V711.8ZM611.37 711.8V529H619.26V711.8ZM619.26 711.8V523.7H627.15V711.8ZM627.15 711.8V498.06H635.04V711.8ZM635.04 711.8V506.2H642.92V711.8ZM642.92 711.8V512.21H650.81V711.8ZM650.81 711.8V512.21H658.7V711.8ZM658.7 711.8V526H666.59V711.8ZM666.59 711.8V550.22H674.48V711.8ZM674.48 711.8V570.55H682.36V711.8ZM682.36 711.8V590.53H690.25V711.8ZM690.25 711.8V619.7H698.14V711.8ZM698.14 711.8V635.62H706.03V711.8ZM706.03 711.8V656.3H713.92V711.8ZM713.92 711.8V678.93H721.8V711.8ZM721.8 711.8V694.84H729.69V711.8ZM729.69 711.8V705.81H737.58V711.8ZM737.58 711.8V711.29H745.47V711.8Z" fill="#b97868" stroke="#961c20" stroke-width="1.35"/>
<path d="M351.07 711.8V711.8H358.96V711.8ZM358.96 711.8V711.8H366.84V711.8ZM366.84 711.8V711.8H374.73V711.8ZM374.73 711.8V711.8H382.62V711.8ZM382.62 711.8V711.8H390.51V711.8ZM390.51 711.8V710.05H398.4V711.8ZM398.4 711.8V708.82H406.28V711.8ZM406.28 711.8V709.17H414.17V711.8ZM414.17 711.8V708.82H422.06V711.8ZM422.06 711.8V710.05H429.95V711.8ZM429.95 711.8V710.23H437.84V711.8ZM437.84 711.8V710.58H445.72V711.8ZM445.72 711.8V707.58H453.61V711.8ZM453.61 711.8V709.7H461.5V711.8ZM461.5 711.8V709.7H469.39V711.8ZM469.39 711.8V709.17H477.28V711.8ZM477.28 711.8V710.05H485.16V711.8ZM485.16 711.8V706.17H493.05V711.8ZM493.05 711.8V705.64H500.94V711.8ZM500.94 711.8V704.4H508.83V711.8ZM508.83 711.8V698.22H516.72V711.8ZM516.72 711.8V694.33H524.6V711.8ZM524.6 711.8V689.38H532.49V711.8ZM532.49 711.8V682.31H540.38V711.8ZM540.38 711.8V678.58H548.27V711.8ZM548.27 711.8V680.35H556.16V711.8ZM556.16 711.8V674.51H564.04V711.8ZM564.04 711.8V674.16H571.93V711.8ZM571.93 711.8V663.9H579.82V711.8ZM579.82 711.8V663.37H587.71V711.8ZM587.71 711.8V653.83H595.6V711.8ZM595.6 711.8V645.69H603.48V711.8ZM603.48 711.8V632.61H611.37V711.8ZM611.37 711.8V587.88H619.26V711.8ZM619.26 711.8V574.26H627.15V711.8ZM627.15 711.8V551.63H635.04V711.8ZM635.04 711.8V547.21H642.92V711.8ZM642.92 711.8V535.72H650.81V711.8ZM650.81 711.8V533.6H658.7V711.8ZM658.7 711.8V541.38H666.59V711.8ZM666.59 711.8V560.47H674.48V711.8ZM674.48 711.8V576.74H682.36V711.8ZM682.36 711.8V593.54H690.25V711.8ZM690.25 711.8V622.89H698.14V711.8ZM698.14 711.8V638.62H706.03V711.8ZM706.03 711.8V659.13H713.92V711.8ZM713.92 711.8V679.82H721.8V711.8ZM721.8 711.8V695.37H729.69V711.8ZM729.69 711.8V706.16H737.58V711.8ZM737.58 711.8V711.29H745.47V711.8Z" fill="#e9a77e" stroke="#dc6426" stroke-width="1.35"/>
<path d="M351.07 711.8V711.8H358.96V711.8ZM358.96 711.8V711.8H366.84V711.8ZM366.84 711.8V711.8H374.73V711.8ZM374.73 711.8V711.8H382.62V711.8ZM382.62 711.8V711.8H390.51V711.8ZM390.51 711.8V711.8H398.4V711.8ZM398.4 711.8V711.8H406.28V711.8ZM406.28 711.8V711.8H414.17V711.8ZM414.17 711.8V711.8H422.06V711.8ZM422.06 711.8V711.8H429.95V711.8ZM429.95 711.8V711.8H437.84V711.8ZM437.84 711.8V711.8H445.72V711.8ZM445.72 711.8V711.8H453.61V711.8ZM453.61 711.8V711.8H461.5V711.8ZM461.5 711.8V711.8H469.39V711.8ZM469.39 711.8V710.05H477.28V711.8ZM477.28 711.8V710.41H485.16V711.8ZM485.16 711.8V706.17H493.05V711.8ZM493.05 711.8V705.64H500.94V711.8ZM500.94 711.8V704.4H508.83V711.8ZM508.83 711.8V698.22H516.72V711.8ZM516.72 711.8V694.33H524.6V711.8ZM524.6 711.8V689.38H532.49V711.8ZM532.49 711.8V682.31H540.38V711.8ZM540.38 711.8V678.58H548.27V711.8ZM548.27 711.8V680.35H556.16V711.8ZM556.16 711.8V674.51H564.04V711.8ZM564.04 711.8V674.16H571.93V711.8ZM571.93 711.8V663.9H579.82V711.8ZM579.82 711.8V663.37H587.71V711.8ZM587.71 711.8V653.83H595.6V711.8ZM595.6 711.8V645.69H603.48V711.8ZM603.48 711.8V632.61H611.37V711.8ZM611.37 711.8V587.88H619.26V711.8ZM619.26 711.8V574.26H627.15V711.8ZM627.15 711.8V551.63H635.04V711.8ZM635.04 711.8V547.21H642.92V711.8ZM642.92 711.8V535.72H650.81V711.8ZM650.81 711.8V533.6H658.7V711.8ZM658.7 711.8V541.38H666.59V711.8ZM666.59 711.8V560.47H674.48V711.8ZM674.48 711.8V576.74H682.36V711.8ZM682.36 711.8V593.54H690.25V711.8ZM690.25 711.8V622.89H698.14V711.8ZM698.14 711.8V638.62H706.03V711.8ZM706.03 711.8V659.13H713.92V711.8ZM713.92 711.8V679.82H721.8V711.8ZM721.8 711.8V695.37H729.69V711.8ZM729.69 711.8V706.16H737.58V711.8ZM737.58 711.8V711.29H745.47V711.8Z" fill="#ebbcdc" stroke="#c2609e" stroke-width="1.35"/>
<path d="M351.07 711.8V711.8H358.96V711.8ZM358.96 711.8V711.8H366.84V711.8ZM366.84 711.8V711.8H374.73V711.8ZM374.73 711.8V711.8H382.62V711.8ZM382.62 711.8V711.8H390.51V711.8ZM390.51 711.8V711.8H398.4V711.8ZM398.4 711.8V711.8H406.28V711.8ZM406.28 711.8V711.8H414.17V711.8ZM414.17 711.8V711.8H422.06V711.8ZM422.06 711.8V711.8H429.95V711.8ZM429.95 711.8V711.8H437.84V711.8ZM437.84 711.8V711.8H445.72V711.8ZM445.72 711.8V711.8H453.61V711.8ZM453.61 711.8V711.8H461.5V711.8ZM461.5 711.8V711.8H469.39V711.8ZM469.39 711.8V710.05H477.28V711.8ZM477.28 711.8V710.41H485.16V711.8ZM485.16 711.8V706.17H493.05V711.8ZM493.05 711.8V705.64H500.94V711.8ZM500.94 711.8V704.4H508.83V711.8ZM508.83 711.8V698.22H516.72V711.8ZM516.72 711.8V694.33H524.6V711.8ZM524.6 711.8V689.38H532.49V711.8ZM532.49 711.8V682.31H540.38V711.8ZM540.38 711.8V678.58H548.27V711.8ZM548.27 711.8V680.35H556.16V711.8ZM556.16 711.8V674.51H564.04V711.8ZM564.04 711.8V674.16H571.93V711.8ZM571.93 711.8V663.9H579.82V711.8ZM579.82 711.8V663.37H587.71V711.8ZM587.71 711.8V653.83H595.6V711.8ZM595.6 711.8V645.69H603.48V711.8ZM603.48 711.8V632.61H611.37V711.8ZM611.37 711.8V587.88H619.26V711.8ZM619.26 711.8V574.26H627.15V711.8ZM627.15 711.8V551.63H635.04V711.8ZM635.04 711.8V547.21H642.92V711.8ZM642.92 711.8V535.72H650.81V711.8ZM650.81 711.8V533.6H658.7V711.8ZM658.7 711.8V541.38H666.59V711.8ZM666.59 711.8V560.47H674.48V711.8ZM674.48 711.8V576.74H682.36V711.8ZM682.36 711.8V593.54H690.25V711.8ZM690.25 711.8V622.89H698.14V711.8ZM698.14 711.8V638.62H706.03V711.8ZM706.03 711.8V662.14H713.92V711.8ZM713.92 711.8V682.47H721.8V711.8ZM721.8 711.8V696.97H729.69V711.8ZM729.69 711.8V706.34H737.58V711.8ZM737.58 711.8V711.29H745.47V711.8Z" fill="#a8d2f0" stroke="#3eaee6" stroke-width="1.35"/>
<path d="M351.07 711.8V711.8H358.96V711.8ZM358.96 711.8V711.8H366.84V711.8ZM366.84 711.8V711.8H374.73V711.8ZM374.73 711.8V711.8H382.62V711.8ZM382.62 711.8V711.8H390.51V711.8ZM390.51 711.8V711.8H398.4V711.8ZM398.4 711.8V711.8H406.28V711.8ZM406.28 711.8V711.8H414.17V711.8ZM414.17 711.8V711.8H422.06V711.8ZM422.06 711.8V711.8H429.95V711.8ZM429.95 711.8V711.8H437.84V711.8ZM437.84 711.8V711.8H445.72V711.8ZM445.72 711.8V711.8H453.61V711.8ZM453.61 711.8V711.8H461.5V711.8ZM461.5 711.8V711.8H469.39V711.8ZM469.39 711.8V710.05H477.28V711.8ZM477.28 711.8V710.41H485.16V711.8ZM485.16 711.8V706.17H493.05V711.8ZM493.05 711.8V705.64H500.94V711.8ZM500.94 711.8V704.4H508.83V711.8ZM508.83 711.8V698.22H516.72V711.8ZM516.72 711.8V694.33H524.6V711.8ZM524.6 711.8V689.38H532.49V711.8ZM532.49 711.8V682.31H540.38V711.8ZM540.38 711.8V678.58H548.27V711.8ZM548.27 711.8V680.35H556.16V711.8ZM556.16 711.8V674.51H564.04V711.8ZM564.04 711.8V674.16H571.93V711.8ZM571.93 711.8V670.45H579.82V711.8ZM579.82 711.8V676.63H587.71V711.8ZM587.71 711.8V677.69H595.6V711.8ZM595.6 711.8V679.82H603.48V711.8ZM603.48 711.8V684.77H611.37V711.8ZM611.37 711.8V688.66H619.26V711.8ZM619.26 711.8V696.97H627.15V711.8ZM627.15 711.8V700.15H635.04V711.8ZM635.04 711.8V702.27H642.92V711.8ZM642.92 711.8V703.68H650.81V711.8ZM650.81 711.8V708.1H658.7V711.8ZM658.7 711.8V705.45H666.59V711.8ZM666.59 711.8V706.34H674.48V711.8ZM674.48 711.8V708.99H682.36V711.8ZM682.36 711.8V704.92H690.25V711.8ZM690.25 711.8V708.1H698.14V711.8ZM698.14 711.8V704.92H706.03V711.8ZM706.03 711.8V707.57H713.92V711.8ZM713.92 711.8V705.81H721.8V711.8ZM721.8 711.8V706.34H729.69V711.8ZM729.69 711.8V708.1H737.58V711.8ZM737.58 711.8V711.29H745.47V711.8Z" fill="#8eaad6" stroke="#1473b9" stroke-width="1.35"/>
<path d="M351.07 711.8V711.8H358.96V711.8ZM358.96 711.8V711.8H366.84V711.8ZM366.84 711.8V711.8H374.73V711.8ZM374.73 711.8V711.8H382.62V711.8ZM382.62 711.8V711.8H390.51V711.8ZM390.51 711.8V711.8H398.4V711.8ZM398.4 711.8V711.8H406.28V711.8ZM406.28 711.8V711.8H414.17V711.8ZM414.17 711.8V711.8H422.06V711.8ZM422.06 711.8V711.8H429.95V711.8ZM429.95 711.8V711.8H437.84V711.8ZM437.84 711.8V711.8H445.72V711.8ZM445.72 711.8V711.8H453.61V711.8ZM453.61 711.8V711.8H461.5V711.8ZM461.5 711.8V711.8H469.39V711.8ZM469.39 711.8V711.8H477.28V711.8ZM477.28 711.8V711.8H485.16V711.8ZM485.16 711.8V709.7H493.05V711.8ZM493.05 711.8V709.88H500.94V711.8ZM500.94 711.8V707.4H508.83V711.8ZM508.83 711.8V704.4H516.72V711.8ZM516.72 711.8V705.28H524.6V711.8ZM524.6 711.8V702.63H532.49V711.8ZM532.49 711.8V697.86H540.38V711.8ZM540.38 711.8V694.49H548.27V711.8ZM548.27 711.8V694.84H556.16V711.8ZM556.16 711.8V688.66H564.04V711.8ZM564.04 711.8V689.54H571.93V711.8ZM571.93 711.8V684.77H579.82V711.8ZM579.82 711.8V685.12H587.71V711.8ZM587.71 711.8V686.89H595.6V711.8ZM595.6 711.8V686.89H603.48V711.8ZM603.48 711.8V686.89H611.37V711.8ZM611.37 711.8V689.19H619.26V711.8ZM619.26 711.8V697.5H627.15V711.8ZM627.15 711.8V700.15H635.04V711.8ZM635.04 711.8V702.27H642.92V711.8ZM642.92 711.8V703.68H650.81V711.8ZM650.81 711.8V708.1H658.7V711.8ZM658.7 711.8V705.45H666.59V711.8ZM666.59 711.8V706.34H674.48V711.8ZM674.48 711.8V708.99H682.36V711.8ZM682.36 711.8V704.92H690.25V711.8ZM690.25 711.8V708.1H698.14V711.8ZM698.14 711.8V704.92H706.03V711.8ZM706.03 711.8V707.57H713.92V711.8ZM713.92 711.8V705.81H721.8V711.8ZM721.8 711.8V706.34H729.69V711.8ZM729.69 711.8V708.1H737.58V711.8ZM737.58 711.8V711.29H745.47V711.8Z" fill="#c0c0c0" stroke="#8c8c8c" stroke-width="1.35"/>
<path d="M351.07 711.8V711.8H358.96V711.8ZM358.96 711.8V711.8H366.84V711.8ZM366.84 711.8V711.8H374.73V711.8ZM374.73 711.8V711.8H382.62V711.8ZM382.62 711.8V711.8H390.51V711.8ZM390.51 711.8V711.8H398.4V711.8ZM398.4 711.8V711.8H406.28V711.8ZM406.28 711.8V711.8H414.17V711.8ZM414.17 711.8V711.8H422.06V711.8ZM422.06 711.8V711.8H429.95V711.8ZM429.95 711.8V711.8H437.84V711.8ZM437.84 711.8V711.8H445.72V711.8ZM445.72 711.8V711.8H453.61V711.8ZM453.61 711.8V711.8H461.5V711.8ZM461.5 711.8V711.8H469.39V711.8ZM469.39 711.8V711.8H477.28V711.8ZM477.28 711.8V711.8H485.16V711.8ZM485.16 711.8V711.8H493.05V711.8ZM493.05 711.8V711.8H500.94V711.8ZM500.94 711.8V711.8H508.83V711.8ZM508.83 711.8V711.8H516.72V711.8ZM516.72 711.8V711.8H524.6V711.8ZM524.6 711.8V711.8H532.49V711.8ZM532.49 711.8V711.8H540.38V711.8ZM540.38 711.8V710.23H548.27V711.8ZM548.27 711.8V710.23H556.16V711.8ZM556.16 711.8V710.23H564.04V711.8ZM564.04 711.8V709.52H571.93V711.8ZM571.93 711.8V708.46H579.82V711.8ZM579.82 711.8V708.64H587.71V711.8ZM587.71 711.8V707.57H595.6V711.8ZM595.6 711.8V707.22H603.48V711.8ZM603.48 711.8V706.87H611.37V711.8ZM611.37 711.8V704.57H619.26V711.8ZM619.26 711.8V707.75H627.15V711.8ZM627.15 711.8V708.99H635.04V711.8ZM635.04 711.8V708.99H642.92V711.8ZM642.92 711.8V708.64H650.81V711.8ZM650.81 711.8V709.87H658.7V711.8ZM658.7 711.8V707.22H666.59V711.8ZM666.59 711.8V707.22H674.48V711.8ZM674.48 711.8V709.87H682.36V711.8ZM682.36 711.8V704.92H690.25V711.8ZM690.25 711.8V708.1H698.14V711.8ZM698.14 711.8V704.92H706.03V711.8ZM706.03 711.8V707.75H713.92V711.8ZM713.92 711.8V705.81H721.8V711.8ZM721.8 711.8V706.34H729.69V711.8ZM729.69 711.8V708.1H737.58V711.8ZM737.58 711.8V711.29H745.47V711.8Z" fill="#f2cb92" stroke="#ee9a1e" stroke-width="1.35"/>
<line x1="351.07" y1="711.8" x2="745.47" y2="711.8" stroke="#ee9a1e" stroke-width="1.6"/>
<line x1="331.4" y1="471.5" x2="331.4" y2="724.25" stroke="#4d4d4d" stroke-width="1.3"/>
<line x1="330.75" y1="723.6" x2="764.9" y2="723.6" stroke="#4d4d4d" stroke-width="1.3"/>
<line x1="322.9" y1="712.2" x2="331.4" y2="712.2" stroke="#4d4d4d" stroke-width="1.3"/>
<line x1="322.9" y1="625.1" x2="331.4" y2="625.1" stroke="#4d4d4d" stroke-width="1.3"/>
<line x1="322.9" y1="538" x2="331.4" y2="538" stroke="#4d4d4d" stroke-width="1.3"/>
<line x1="362.9" y1="723.6" x2="362.9" y2="732.1" stroke="#4d4d4d" stroke-width="1.3"/>
<line x1="441.78" y1="723.6" x2="441.78" y2="732.1" stroke="#4d4d4d" stroke-width="1.3"/>
<line x1="520.66" y1="723.6" x2="520.66" y2="732.1" stroke="#4d4d4d" stroke-width="1.3"/>
<line x1="599.54" y1="723.6" x2="599.54" y2="732.1" stroke="#4d4d4d" stroke-width="1.3"/>
<line x1="678.42" y1="723.6" x2="678.42" y2="732.1" stroke="#4d4d4d" stroke-width="1.3"/>
<line x1="757.3" y1="723.6" x2="757.3" y2="732.1" stroke="#4d4d4d" stroke-width="1.3"/>
<text x="296.18" y="721.1" font-size="23.4" fill="#231f20" textLength="15.06" lengthAdjust="spacingAndGlyphs">0</text>
<text x="266.53" y="634" font-size="23.4" fill="#231f20" textLength="44.7" lengthAdjust="spacingAndGlyphs">500</text>
<text x="246.98" y="546.9" font-size="23.4" fill="#231f20" textLength="64.19" lengthAdjust="spacingAndGlyphs">1,000</text>
<text x="347.94" y="762.9" font-size="23.4" fill="#231f20" textLength="29.98" lengthAdjust="spacingAndGlyphs">30</text>
<text x="427.23" y="762.9" font-size="23.4" fill="#231f20" textLength="29.56" lengthAdjust="spacingAndGlyphs">40</text>
<text x="506.01" y="762.9" font-size="23.4" fill="#231f20" textLength="29.3" lengthAdjust="spacingAndGlyphs">50</text>
<text x="584.39" y="762.9" font-size="23.4" fill="#231f20" textLength="30.03" lengthAdjust="spacingAndGlyphs">60</text>
<text x="665.08" y="762.9" font-size="23.4" fill="#231f20" textLength="26.44" lengthAdjust="spacingAndGlyphs">70</text>
<text x="742.31" y="762.9" font-size="23.4" fill="#231f20" textLength="29.91" lengthAdjust="spacingAndGlyphs">80</text>
<text x="445.41" y="457.7" font-size="27.8" fill="#231f20" textLength="203.93" lengthAdjust="spacingAndGlyphs">Disease: asthma</text>
<text transform="translate(223.6,697.9) rotate(-90)" x="-2.64" y="0" font-size="27.9" fill="#231f20" textLength="205.69" lengthAdjust="spacingAndGlyphs">Incidence count</text>
<text x="479" y="807.6" font-size="27.2" fill="#231f20" textLength="140.86" lengthAdjust="spacingAndGlyphs">Age (years)</text>
<path d="M967.66 712.3V712.2H975.42V712.3ZM975.42 712.3V712.2H983.18V712.3ZM983.18 712.3V712H990.94V712.3ZM990.94 712.3V711.8H998.7V712.3ZM998.7 712.3V711.5H1006.46V712.3ZM1006.46 712.3V711.2H1014.22V712.3ZM1014.22 712.3V710.6H1021.98V712.3ZM1021.98 712.3V710.2H1029.74V712.3ZM1029.74 712.3V709.87H1037.5V712.3ZM1037.5 712.3V708.52H1045.26V712.3ZM1045.26 712.3V707.05H1053.02V712.3ZM1053.02 712.3V704.85H1060.78V712.3ZM1060.78 712.3V702.16H1068.54V712.3ZM1068.54 712.3V699.47H1076.3V712.3ZM1076.3 712.3V694.82H1084.06V712.3ZM1084.06 712.3V690.29H1091.82V712.3ZM1091.82 712.3V685.39H1099.58V712.3ZM1099.58 712.3V680.13H1107.34V712.3ZM1107.34 712.3V674.62H1115.1V712.3ZM1115.1 712.3V669.48H1122.86V712.3ZM1122.86 712.3V659.08H1130.62V712.3ZM1130.62 712.3V650.39H1138.38V712.3ZM1138.38 712.3V640.6H1146.14V712.3ZM1146.14 712.3V630.32H1153.9V712.3ZM1153.9 712.3V621.39H1161.66V712.3ZM1161.66 712.3V612.45H1169.42V712.3ZM1169.42 712.3V599.6H1177.18V712.3ZM1177.18 712.3V583.2H1184.94V712.3ZM1184.94 712.3V572.06H1192.7V712.3ZM1192.7 712.3V556.57H1200.46V712.3ZM1200.46 712.3V546.67H1208.22V712.3ZM1208.22 712.3V533.59H1215.98V712.3ZM1215.98 712.3V519.45H1223.74V712.3ZM1223.74 712.3V506.54H1231.5V712.3ZM1231.5 712.3V500.35H1239.26V712.3ZM1239.26 712.3V487.63H1247.02V712.3ZM1247.02 712.3V488.86H1254.78V712.3ZM1254.78 712.3V481.79H1262.54V712.3ZM1262.54 712.3V496.82H1270.3V712.3ZM1270.3 712.3V503.89H1278.06V712.3ZM1278.06 712.3V522.98H1285.82V712.3ZM1285.82 712.3V548.61H1293.58V712.3ZM1293.58 712.3V564.88H1301.34V712.3ZM1301.34 712.3V588.39H1309.1V712.3ZM1309.1 712.3V620.91H1316.86V712.3ZM1316.86 712.3V645.66H1324.62V712.3ZM1324.62 712.3V668.64H1332.38V712.3ZM1332.38 712.3V688.09H1340.14V712.3ZM1340.14 712.3V703.29H1347.9V712.3ZM1347.9 712.3V711.24H1355.66V712.3ZM1355.66 712.3V712.13H1363.42V712.3Z" fill="#f1eea9" stroke="#ebe23c" stroke-width="1.35"/>
<path d="M967.66 712.3V712.2H975.42V712.3ZM975.42 712.3V712.2H983.18V712.3ZM983.18 712.3V712H990.94V712.3ZM990.94 712.3V711.8H998.7V712.3ZM998.7 712.3V711.5H1006.46V712.3ZM1006.46 712.3V711.2H1014.22V712.3ZM1014.22 712.3V710.6H1021.98V712.3ZM1021.98 712.3V710.2H1029.74V712.3ZM1029.74 712.3V709.87H1037.5V712.3ZM1037.5 712.3V708.52H1045.26V712.3ZM1045.26 712.3V707.05H1053.02V712.3ZM1053.02 712.3V704.85H1060.78V712.3ZM1060.78 712.3V702.16H1068.54V712.3ZM1068.54 712.3V699.47H1076.3V712.3ZM1076.3 712.3V694.82H1084.06V712.3ZM1084.06 712.3V690.29H1091.82V712.3ZM1091.82 712.3V685.39H1099.58V712.3ZM1099.58 712.3V681.11H1107.34V712.3ZM1107.34 712.3V675.85H1115.1V712.3ZM1115.1 712.3V673.15H1122.86V712.3ZM1122.86 712.3V665.44H1130.62V712.3ZM1130.62 712.3V662.14H1138.38V712.3ZM1138.38 712.3V657.24H1146.14V712.3ZM1146.14 712.3V653.57H1153.9V712.3ZM1153.9 712.3V655.29H1161.66V712.3ZM1161.66 712.3V654.18H1169.42V712.3ZM1169.42 712.3V667.89H1177.18V712.3ZM1177.18 712.3V658.47H1184.94V712.3ZM1184.94 712.3V652.35H1192.7V712.3ZM1192.7 712.3V643.19H1200.46V712.3ZM1200.46 712.3V632.4H1208.22V712.3ZM1208.22 712.3V616.67H1215.98V712.3ZM1215.98 712.3V581.67H1223.74V712.3ZM1223.74 712.3V557.45H1231.5V712.3ZM1231.5 712.3V544.02H1239.26V712.3ZM1239.26 712.3V519.45H1247.02V712.3ZM1247.02 712.3V509.72H1254.78V712.3ZM1254.78 712.3V497.35H1262.54V712.3ZM1262.54 712.3V504.42H1270.3V712.3ZM1270.3 712.3V507.43H1278.06V712.3ZM1278.06 712.3V523.33H1285.82V712.3ZM1285.82 712.3V548.61H1293.58V712.3ZM1293.58 712.3V564.88H1301.34V712.3ZM1301.34 712.3V588.39H1309.1V712.3ZM1309.1 712.3V620.91H1316.86V712.3ZM1316.86 712.3V645.66H1324.62V712.3ZM1324.62 712.3V668.64H1332.38V712.3ZM1332.38 712.3V688.09H1340.14V712.3ZM1340.14 712.3V703.29H1347.9V712.3ZM1347.9 712.3V711.24H1355.66V712.3ZM1355.66 712.3V712.13H1363.42V712.3Z" fill="#b97868" stroke="#961c20" stroke-width="1.35"/>
<path d="M967.66 712.3V712.2H975.42V712.3ZM975.42 712.3V712.2H983.18V712.3ZM983.18 712.3V712H990.94V712.3ZM990.94 712.3V711.8H998.7V712.3ZM998.7 712.3V711.5H1006.46V712.3ZM1006.46 712.3V711.2H1014.22V712.3ZM1014.22 712.3V710.6H1021.98V712.3ZM1021.98 712.3V710.2H1029.74V712.3ZM1029.74 712.3V709.87H1037.5V712.3ZM1037.5 712.3V708.52H1045.26V712.3ZM1045.26 712.3V707.05H1053.02V712.3ZM1053.02 712.3V704.85H1060.78V712.3ZM1060.78 712.3V702.16H1068.54V712.3ZM1068.54 712.3V699.47H1076.3V712.3ZM1076.3 712.3V694.82H1084.06V712.3ZM1084.06 712.3V690.29H1091.82V712.3ZM1091.82 712.3V685.39H1099.58V712.3ZM1099.58 712.3V681.11H1107.34V712.3ZM1107.34 712.3V675.85H1115.1V712.3ZM1115.1 712.3V673.15H1122.86V712.3ZM1122.86 712.3V665.44H1130.62V712.3ZM1130.62 712.3V662.14H1138.38V712.3ZM1138.38 712.3V657.24H1146.14V712.3ZM1146.14 712.3V653.57H1153.9V712.3ZM1153.9 712.3V655.29H1161.66V712.3ZM1161.66 712.3V654.18H1169.42V712.3ZM1169.42 712.3V667.89H1177.18V712.3ZM1177.18 712.3V658.47H1184.94V712.3ZM1184.94 712.3V653.21H1192.7V712.3ZM1192.7 712.3V644.42H1200.46V712.3ZM1200.46 712.3V637.35H1208.22V712.3ZM1208.22 712.3V624.98H1215.98V712.3ZM1215.98 712.3V596.7H1223.74V712.3ZM1223.74 712.3V576.01H1231.5V712.3ZM1231.5 712.3V567.17H1239.26V712.3ZM1239.26 712.3V547.2H1247.02V712.3ZM1247.02 712.3V544.19H1254.78V712.3ZM1254.78 712.3V533.06H1262.54V712.3ZM1262.54 712.3V538.89H1270.3V712.3ZM1270.3 712.3V541.9H1278.06V712.3ZM1278.06 712.3V555.15H1285.82V712.3ZM1285.82 712.3V577.6H1293.58V712.3ZM1293.58 712.3V586.97H1301.34V712.3ZM1301.34 712.3V605H1309.1V712.3ZM1309.1 712.3V632.05H1316.86V712.3ZM1316.86 712.3V650.61H1324.62V712.3ZM1324.62 712.3V670.94H1332.38V712.3ZM1332.38 712.3V689.15H1340.14V712.3ZM1340.14 712.3V704H1347.9V712.3ZM1347.9 712.3V711.24H1355.66V712.3ZM1355.66 712.3V712.13H1363.42V712.3Z" fill="#e9a77e" stroke="#dc6426" stroke-width="1.35"/>
<path d="M967.66 712.3V712.3H975.42V712.3ZM975.42 712.3V712.3H983.18V712.3ZM983.18 712.3V712.3H990.94V712.3ZM990.94 712.3V712.3H998.7V712.3ZM998.7 712.3V712.3H1006.46V712.3ZM1006.46 712.3V712.3H1014.22V712.3ZM1014.22 712.3V712.3H1021.98V712.3ZM1021.98 712.3V712.3H1029.74V712.3ZM1029.74 712.3V712.3H1037.5V712.3ZM1037.5 712.3V712.3H1045.26V712.3ZM1045.26 712.3V712.3H1053.02V712.3ZM1053.02 712.3V712.3H1060.78V712.3ZM1060.78 712.3V712.3H1068.54V712.3ZM1068.54 712.3V712.3H1076.3V712.3ZM1076.3 712.3V712.3H1084.06V712.3ZM1084.06 712.3V712.3H1091.82V712.3ZM1091.82 712.3V712.3H1099.58V712.3ZM1099.58 712.3V712.3H1107.34V712.3ZM1107.34 712.3V712.3H1115.1V712.3ZM1115.1 712.3V712.3H1122.86V712.3ZM1122.86 712.3V712.3H1130.62V712.3ZM1130.62 712.3V712.3H1138.38V712.3ZM1138.38 712.3V711.34H1146.14V712.3ZM1146.14 712.3V711.09H1153.9V712.3ZM1153.9 712.3V709.5H1161.66V712.3ZM1161.66 712.3V708.89H1169.42V712.3ZM1169.42 712.3V705.46H1177.18V712.3ZM1177.18 712.3V700.69H1184.94V712.3ZM1184.94 712.3V696.04H1192.7V712.3ZM1192.7 712.3V688.62H1200.46V712.3ZM1200.46 712.3V679.78H1208.22V712.3ZM1208.22 712.3V666.52H1215.98V712.3ZM1215.98 712.3V638.77H1223.74V712.3ZM1223.74 712.3V618.44H1231.5V712.3ZM1231.5 712.3V603.77H1239.26V712.3ZM1239.26 712.3V581.67H1247.02V712.3ZM1247.02 712.3V569.83H1254.78V712.3ZM1254.78 712.3V557.28H1262.54V712.3ZM1262.54 712.3V556.39H1270.3V712.3ZM1270.3 712.3V555.51H1278.06V712.3ZM1278.06 712.3V562.75H1285.82V712.3ZM1285.82 712.3V582.02H1293.58V712.3ZM1293.58 712.3V589.98H1301.34V712.3ZM1301.34 712.3V606.42H1309.1V712.3ZM1309.1 712.3V632.93H1316.86V712.3ZM1316.86 712.3V651.49H1324.62V712.3ZM1324.62 712.3V670.94H1332.38V712.3ZM1332.38 712.3V689.5H1340.14V712.3ZM1340.14 712.3V704.53H1347.9V712.3ZM1347.9 712.3V711.24H1355.66V712.3ZM1355.66 712.3V712.13H1363.42V712.3Z" fill="#b8a8d8" stroke="#8f6dc0" stroke-width="1.35"/>
<path d="M967.66 712.3V712.3H975.42V712.3ZM975.42 712.3V712.3H983.18V712.3ZM983.18 712.3V712.3H990.94V712.3ZM990.94 712.3V712.3H998.7V712.3ZM998.7 712.3V712.3H1006.46V712.3ZM1006.46 712.3V712.3H1014.22V712.3ZM1014.22 712.3V712.3H1021.98V712.3ZM1021.98 712.3V712.3H1029.74V712.3ZM1029.74 712.3V712.3H1037.5V712.3ZM1037.5 712.3V712.3H1045.26V712.3ZM1045.26 712.3V712.3H1053.02V712.3ZM1053.02 712.3V712.3H1060.78V712.3ZM1060.78 712.3V712.3H1068.54V712.3ZM1068.54 712.3V712.3H1076.3V712.3ZM1076.3 712.3V712.3H1084.06V712.3ZM1084.06 712.3V712.3H1091.82V712.3ZM1091.82 712.3V712.3H1099.58V712.3ZM1099.58 712.3V712.3H1107.34V712.3ZM1107.34 712.3V712.3H1115.1V712.3ZM1115.1 712.3V712.3H1122.86V712.3ZM1122.86 712.3V712.3H1130.62V712.3ZM1130.62 712.3V712.3H1138.38V712.3ZM1138.38 712.3V711.34H1146.14V712.3ZM1146.14 712.3V711.09H1153.9V712.3ZM1153.9 712.3V709.5H1161.66V712.3ZM1161.66 712.3V708.89H1169.42V712.3ZM1169.42 712.3V705.46H1177.18V712.3ZM1177.18 712.3V700.69H1184.94V712.3ZM1184.94 712.3V696.04H1192.7V712.3ZM1192.7 712.3V688.62H1200.46V712.3ZM1200.46 712.3V679.78H1208.22V712.3ZM1208.22 712.3V666.52H1215.98V712.3ZM1215.98 712.3V638.77H1223.74V712.3ZM1223.74 712.3V618.44H1231.5V712.3ZM1231.5 712.3V603.77H1239.26V712.3ZM1239.26 712.3V581.67H1247.02V712.3ZM1247.02 712.3V569.83H1254.78V712.3ZM1254.78 712.3V557.28H1262.54V712.3ZM1262.54 712.3V556.39H1270.3V712.3ZM1270.3 712.3V556.04H1278.06V712.3ZM1278.06 712.3V564.88H1285.82V712.3ZM1285.82 712.3V586.97H1293.58V712.3ZM1293.58 712.3V596.16H1301.34V712.3ZM1301.34 712.3V616.14H1309.1V712.3ZM1309.1 712.3V645.31H1316.86V712.3ZM1316.86 712.3V662.98H1324.62V712.3ZM1324.62 712.3V681.19H1332.38V712.3ZM1332.38 712.3V696.57H1340.14V712.3ZM1340.14 712.3V705.41H1347.9V712.3ZM1347.9 712.3V711.24H1355.66V712.3ZM1355.66 712.3V712.13H1363.42V712.3Z" fill="#a8d2f0" stroke="#3eaee6" stroke-width="1.35"/>
<path d="M967.66 712.3V712.3H975.42V712.3ZM975.42 712.3V712.3H983.18V712.3ZM983.18 712.3V712.3H990.94V712.3ZM990.94 712.3V712.3H998.7V712.3ZM998.7 712.3V712.3H1006.46V712.3ZM1006.46 712.3V712.3H1014.22V712.3ZM1014.22 712.3V712.3H1021.98V712.3ZM1021.98 712.3V712.3H1029.74V712.3ZM1029.74 712.3V712.3H1037.5V712.3ZM1037.5 712.3V712.3H1045.26V712.3ZM1045.26 712.3V712.3H1053.02V712.3ZM1053.02 712.3V712.3H1060.78V712.3ZM1060.78 712.3V712.3H1068.54V712.3ZM1068.54 712.3V712.3H1076.3V712.3ZM1076.3 712.3V712.3H1084.06V712.3ZM1084.06 712.3V712.3H1091.82V712.3ZM1091.82 712.3V712.3H1099.58V712.3ZM1099.58 712.3V712.3H1107.34V712.3ZM1107.34 712.3V712.3H1115.1V712.3ZM1115.1 712.3V712.3H1122.86V712.3ZM1122.86 712.3V712.3H1130.62V712.3ZM1130.62 712.3V712.3H1138.38V712.3ZM1138.38 712.3V711.34H1146.14V712.3ZM1146.14 712.3V711.09H1153.9V712.3ZM1153.9 712.3V709.5H1161.66V712.3ZM1161.66 712.3V708.89H1169.42V712.3ZM1169.42 712.3V705.46H1177.18V712.3ZM1177.18 712.3V700.69H1184.94V712.3ZM1184.94 712.3V696.04H1192.7V712.3ZM1192.7 712.3V689.85H1200.46V712.3ZM1200.46 712.3V683.84H1208.22V712.3ZM1208.22 712.3V675.01H1215.98V712.3ZM1215.98 712.3V652.73H1223.74V712.3ZM1223.74 712.3V640H1231.5V712.3ZM1231.5 712.3V633.46H1239.26V712.3ZM1239.26 712.3V620.03H1247.02V712.3ZM1247.02 712.3V615.61H1254.78V712.3ZM1254.78 712.3V610.84H1262.54V712.3ZM1262.54 712.3V614.37H1270.3V712.3ZM1270.3 712.3V625.51H1278.06V712.3ZM1278.06 712.3V633.46H1285.82V712.3ZM1285.82 712.3V642.13H1293.58V712.3ZM1293.58 712.3V643.54H1301.34V712.3ZM1301.34 712.3V651.49H1309.1V712.3ZM1309.1 712.3V665.64H1316.86V712.3ZM1316.86 712.3V675.36H1324.62V712.3ZM1324.62 712.3V686.85H1332.38V712.3ZM1332.38 712.3V700.11H1340.14V712.3ZM1340.14 712.3V708.06H1347.9V712.3ZM1347.9 712.3V711.24H1355.66V712.3ZM1355.66 712.3V712.13H1363.42V712.3Z" fill="#8eaad6" stroke="#1473b9" stroke-width="1.35"/>
<path d="M967.66 712.3V712.3H975.42V712.3ZM975.42 712.3V712.3H983.18V712.3ZM983.18 712.3V712.3H990.94V712.3ZM990.94 712.3V712.3H998.7V712.3ZM998.7 712.3V712.3H1006.46V712.3ZM1006.46 712.3V712.3H1014.22V712.3ZM1014.22 712.3V712.3H1021.98V712.3ZM1021.98 712.3V712.3H1029.74V712.3ZM1029.74 712.3V712.3H1037.5V712.3ZM1037.5 712.3V712.3H1045.26V712.3ZM1045.26 712.3V712.3H1053.02V712.3ZM1053.02 712.3V712.3H1060.78V712.3ZM1060.78 712.3V712.3H1068.54V712.3ZM1068.54 712.3V712.3H1076.3V712.3ZM1076.3 712.3V712.3H1084.06V712.3ZM1084.06 712.3V712.3H1091.82V712.3ZM1091.82 712.3V712.3H1099.58V712.3ZM1099.58 712.3V712.3H1107.34V712.3ZM1107.34 712.3V712.3H1115.1V712.3ZM1115.1 712.3V712.3H1122.86V712.3ZM1122.86 712.3V712.3H1130.62V712.3ZM1130.62 712.3V712.3H1138.38V712.3ZM1138.38 712.3V712.3H1146.14V712.3ZM1146.14 712.3V712.3H1153.9V712.3ZM1153.9 712.3V712.3H1161.66V712.3ZM1161.66 712.3V712.3H1169.42V712.3ZM1169.42 712.3V712.3H1177.18V712.3ZM1177.18 712.3V712.3H1184.94V712.3ZM1184.94 712.3V712.3H1192.7V712.3ZM1192.7 712.3V709.83H1200.46V712.3ZM1200.46 712.3V709.83H1208.22V712.3ZM1208.22 712.3V708.06H1215.98V712.3ZM1215.98 712.3V707.18H1223.74V712.3ZM1223.74 712.3V705.41H1231.5V712.3ZM1231.5 712.3V705.41H1239.26V712.3ZM1239.26 712.3V703.64H1247.02V712.3ZM1247.02 712.3V702.4H1254.78V712.3ZM1254.78 712.3V701.52H1262.54V712.3ZM1262.54 712.3V700.46H1270.3V712.3ZM1270.3 712.3V696.57H1278.06V712.3ZM1278.06 712.3V697.46H1285.82V712.3ZM1285.82 712.3V696.93H1293.58V712.3ZM1293.58 712.3V693.39H1301.34V712.3ZM1301.34 712.3V691.27H1309.1V712.3ZM1309.1 712.3V694.27H1316.86V712.3ZM1316.86 712.3V693.57H1324.62V712.3ZM1324.62 712.3V696.22H1332.38V712.3ZM1332.38 712.3V701.87H1340.14V712.3ZM1340.14 712.3V708.06H1347.9V712.3ZM1347.9 712.3V711.24H1355.66V712.3ZM1355.66 712.3V712.13H1363.42V712.3Z" fill="#c0c0c0" stroke="#8c8c8c" stroke-width="1.35"/>
<path d="M967.66 712.3V712.3H975.42V712.3ZM975.42 712.3V712.3H983.18V712.3ZM983.18 712.3V712.3H990.94V712.3ZM990.94 712.3V712.3H998.7V712.3ZM998.7 712.3V712.3H1006.46V712.3ZM1006.46 712.3V712.3H1014.22V712.3ZM1014.22 712.3V712.3H1021.98V712.3ZM1021.98 712.3V712.3H1029.74V712.3ZM1029.74 712.3V712.3H1037.5V712.3ZM1037.5 712.3V712.3H1045.26V712.3ZM1045.26 712.3V712.3H1053.02V712.3ZM1053.02 712.3V712.3H1060.78V712.3ZM1060.78 712.3V712.3H1068.54V712.3ZM1068.54 712.3V712.3H1076.3V712.3ZM1076.3 712.3V712.3H1084.06V712.3ZM1084.06 712.3V712.3H1091.82V712.3ZM1091.82 712.3V712.3H1099.58V712.3ZM1099.58 712.3V712.3H1107.34V712.3ZM1107.34 712.3V712.3H1115.1V712.3ZM1115.1 712.3V712.3H1122.86V712.3ZM1122.86 712.3V712.3H1130.62V712.3ZM1130.62 712.3V712.3H1138.38V712.3ZM1138.38 712.3V712.3H1146.14V712.3ZM1146.14 712.3V712.3H1153.9V712.3ZM1153.9 712.3V712.3H1161.66V712.3ZM1161.66 712.3V712.3H1169.42V712.3ZM1169.42 712.3V712.3H1177.18V712.3ZM1177.18 712.3V712.3H1184.94V712.3ZM1184.94 712.3V712.3H1192.7V712.3ZM1192.7 712.3V712.13H1200.46V712.3ZM1200.46 712.3V712.13H1208.22V712.3ZM1208.22 712.3V711.77H1215.98V712.3ZM1215.98 712.3V711.6H1223.74V712.3ZM1223.74 712.3V711.24H1231.5V712.3ZM1231.5 712.3V710.71H1239.26V712.3ZM1239.26 712.3V709.48H1247.02V712.3ZM1247.02 712.3V708.59H1254.78V712.3ZM1254.78 712.3V707.18H1262.54V712.3ZM1262.54 712.3V704.17H1270.3V712.3ZM1270.3 712.3V700.11H1278.06V712.3ZM1278.06 712.3V700.11H1285.82V712.3ZM1285.82 712.3V696.93H1293.58V712.3ZM1293.58 712.3V693.39H1301.34V712.3ZM1301.34 712.3V691.27H1309.1V712.3ZM1309.1 712.3V694.27H1316.86V712.3ZM1316.86 712.3V693.57H1324.62V712.3ZM1324.62 712.3V696.22H1332.38V712.3ZM1332.38 712.3V701.87H1340.14V712.3ZM1340.14 712.3V708.06H1347.9V712.3ZM1347.9 712.3V711.24H1355.66V712.3ZM1355.66 712.3V712.13H1363.42V712.3Z" fill="#f2cb92" stroke="#ee9a1e" stroke-width="1.35"/>
<line x1="967.66" y1="712.3" x2="1363.42" y2="712.3" stroke="#ee9a1e" stroke-width="1.6"/>
<line x1="947.7" y1="471.4" x2="947.7" y2="724.65" stroke="#4d4d4d" stroke-width="1.3"/>
<line x1="947.05" y1="724" x2="1382.8" y2="724" stroke="#4d4d4d" stroke-width="1.3"/>
<line x1="939.2" y1="712.3" x2="947.7" y2="712.3" stroke="#4d4d4d" stroke-width="1.3"/>
<line x1="939.2" y1="668.06" x2="947.7" y2="668.06" stroke="#4d4d4d" stroke-width="1.3"/>
<line x1="939.2" y1="623.82" x2="947.7" y2="623.82" stroke="#4d4d4d" stroke-width="1.3"/>
<line x1="939.2" y1="579.58" x2="947.7" y2="579.58" stroke="#4d4d4d" stroke-width="1.3"/>
<line x1="939.2" y1="535.34" x2="947.7" y2="535.34" stroke="#4d4d4d" stroke-width="1.3"/>
<line x1="939.2" y1="491.1" x2="947.7" y2="491.1" stroke="#4d4d4d" stroke-width="1.3"/>
<line x1="979.3" y1="724" x2="979.3" y2="732.5" stroke="#4d4d4d" stroke-width="1.3"/>
<line x1="1056.9" y1="724" x2="1056.9" y2="732.5" stroke="#4d4d4d" stroke-width="1.3"/>
<line x1="1134.5" y1="724" x2="1134.5" y2="732.5" stroke="#4d4d4d" stroke-width="1.3"/>
<line x1="1212.1" y1="724" x2="1212.1" y2="732.5" stroke="#4d4d4d" stroke-width="1.3"/>
<line x1="1289.7" y1="724" x2="1289.7" y2="732.5" stroke="#4d4d4d" stroke-width="1.3"/>
<line x1="1367.3" y1="724" x2="1367.3" y2="732.5" stroke="#4d4d4d" stroke-width="1.3"/>
<text x="913.2" y="721.2" font-size="23.4" fill="#231f20" textLength="14.83" lengthAdjust="spacingAndGlyphs">0</text>
<text x="864.29" y="676.96" font-size="23.4" fill="#231f20" textLength="63.66" lengthAdjust="spacingAndGlyphs">1,000</text>
<text x="860.25" y="632.72" font-size="23.4" fill="#231f20" textLength="67.77" lengthAdjust="spacingAndGlyphs">2,000</text>
<text x="860.59" y="588.48" font-size="23.4" fill="#231f20" textLength="67.42" lengthAdjust="spacingAndGlyphs">3,000</text>
<text x="861" y="544.24" font-size="23.4" fill="#231f20" textLength="67.01" lengthAdjust="spacingAndGlyphs">4,000</text>
<text x="860.52" y="500" font-size="23.4" fill="#231f20" textLength="67.49" lengthAdjust="spacingAndGlyphs">5,000</text>
<text x="948.44" y="762.9" font-size="23.4" fill="#231f20" textLength="29.98" lengthAdjust="spacingAndGlyphs">30</text>
<text x="1031.29" y="762.9" font-size="23.4" fill="#231f20" textLength="29.56" lengthAdjust="spacingAndGlyphs">40</text>
<text x="1113.63" y="762.9" font-size="23.4" fill="#231f20" textLength="29.3" lengthAdjust="spacingAndGlyphs">50</text>
<text x="1195.57" y="762.9" font-size="23.4" fill="#231f20" textLength="30.03" lengthAdjust="spacingAndGlyphs">60</text>
<text x="1279.82" y="762.9" font-size="23.4" fill="#231f20" textLength="26.44" lengthAdjust="spacingAndGlyphs">70</text>
<text x="1360.61" y="762.9" font-size="23.4" fill="#231f20" textLength="29.91" lengthAdjust="spacingAndGlyphs">80</text>
<text x="966.04" y="456.9" font-size="27.8" fill="#231f20" textLength="398.58" lengthAdjust="spacingAndGlyphs">Disease: essential hypertension</text>
<text transform="translate(836.1,698.2) rotate(-90)" x="-2.63" y="0" font-size="27.9" fill="#231f20" textLength="205.08" lengthAdjust="spacingAndGlyphs">Incidence count</text>
<text x="1096.5" y="807.6" font-size="27.2" fill="#231f20" textLength="140.66" lengthAdjust="spacingAndGlyphs">Age (years)</text>
<rect x="1487.7" y="7.5" width="66.8" height="65.8" fill="#e4a07e"/>
<rect x="1583.3" y="7.5" width="67.2" height="65.8" fill="#88a0cd"/>
<rect x="1676.6" y="9.2" width="67.9" height="63.4" fill="#efeca6"/>
<rect x="1770.9" y="9.2" width="67.9" height="62.7" fill="#a6c7e9"/>
<rect x="1770.9" y="9.2" width="67.9" height="0.9" fill="#b9a3d6"/>
<text x="1493.05" y="106.2" font-size="27.2" fill="#231f20" textLength="56.9" lengthAdjust="spacingAndGlyphs">CVD</text>
<text x="1574.32" y="106.2" font-size="27.2" fill="#231f20" textLength="83.28" lengthAdjust="spacingAndGlyphs">MGND</text>
<text x="1684.86" y="106.2" font-size="27.2" fill="#231f20" textLength="52.22" lengthAdjust="spacingAndGlyphs">CER</text>
<text x="1768.07" y="106.2" font-size="27.2" fill="#231f20" textLength="75.3" lengthAdjust="spacingAndGlyphs">FGND</text>
<text x="1903.77" y="35.68" font-size="33.43" fill="#231f20" textLength="27.61" lengthAdjust="spacingAndGlyphs">**</text>
<text x="1942.29" y="30" font-size="28.2" fill="#231f20" textLength="129.13" lengthAdjust="spacingAndGlyphs">FDR &lt; 0.01</text>
<text x="1903.81" y="71.48" font-size="33.43" fill="#231f20" textLength="12.76" lengthAdjust="spacingAndGlyphs">*</text>
<text x="1940.49" y="66.1" font-size="28.2" fill="#231f20" textLength="109.75" lengthAdjust="spacingAndGlyphs">FDR &lt; 0.1</text>
<line x1="1705" y1="190" x2="2143.4" y2="190" stroke="#e8e9ea" stroke-width="3.2"/>
<line x1="1694.3" y1="190" x2="1704.8" y2="190" stroke="#6d6e71" stroke-width="1.3"/>
<line x1="1705" y1="312.7" x2="2143.4" y2="312.7" stroke="#e8e9ea" stroke-width="3.2"/>
<line x1="1694.3" y1="312.7" x2="1704.8" y2="312.7" stroke="#6d6e71" stroke-width="1.3"/>
<line x1="1705" y1="435.5" x2="2143.4" y2="435.5" stroke="#e8e9ea" stroke-width="3.2"/>
<line x1="1694.3" y1="435.5" x2="1704.8" y2="435.5" stroke="#6d6e71" stroke-width="1.3"/>
<line x1="1705" y1="558.3" x2="2143.4" y2="558.3" stroke="#e8e9ea" stroke-width="3.2"/>
<line x1="1694.3" y1="558.3" x2="1704.8" y2="558.3" stroke="#6d6e71" stroke-width="1.3"/>
<rect x="1945.7" y="142.7" width="164.8" height="21" fill="#e0804a"/>
<rect x="1863.4" y="167.4" width="82.3" height="21" fill="#4586c0"/>
<rect x="1888" y="192" width="57.7" height="21" fill="#ede876"/>
<rect x="1752" y="216.1" width="193.7" height="21" fill="#6fbce8"/>
<rect x="1945.7" y="265.3" width="119" height="21" fill="#e0804a"/>
<rect x="1945.7" y="289.9" width="12.1" height="21" fill="#4586c0"/>
<rect x="1945.7" y="314.5" width="40.3" height="21" fill="#ede876"/>
<rect x="1795.2" y="339.1" width="150.5" height="21" fill="#6fbce8"/>
<rect x="1936.3" y="388.3" width="9.4" height="21" fill="#e0804a"/>
<rect x="1912.6" y="412.9" width="33.1" height="21" fill="#4586c0"/>
<rect x="1945.7" y="437.5" width="62" height="21" fill="#ede876"/>
<rect x="1927.6" y="462.1" width="18.1" height="21" fill="#6fbce8"/>
<rect x="1945.7" y="511.1" width="78.7" height="21" fill="#e0804a"/>
<rect x="1873.9" y="535.2" width="71.8" height="21" fill="#4586c0"/>
<rect x="1945.7" y="560" width="51" height="21" fill="#ede876"/>
<rect x="1899.2" y="584.4" width="46.5" height="21" fill="#6fbce8"/>
<line x1="2097.4" y1="153.2" x2="2123.5" y2="153.2" stroke="#3a3a3a" stroke-width="1.25"/>
<line x1="2097.4" y1="150.4" x2="2097.4" y2="156" stroke="#3a3a3a" stroke-width="1.25"/>
<line x1="2123.5" y1="150.4" x2="2123.5" y2="156" stroke="#3a3a3a" stroke-width="1.25"/>
<line x1="1839.5" y1="177.9" x2="1887.3" y2="177.9" stroke="#3a3a3a" stroke-width="1.25"/>
<line x1="1839.5" y1="175.1" x2="1839.5" y2="180.7" stroke="#3a3a3a" stroke-width="1.25"/>
<line x1="1887.3" y1="175.1" x2="1887.3" y2="180.7" stroke="#3a3a3a" stroke-width="1.25"/>
<line x1="1865.2" y1="202.5" x2="1910.6" y2="202.5" stroke="#3a3a3a" stroke-width="1.25"/>
<line x1="1865.2" y1="199.7" x2="1865.2" y2="205.3" stroke="#3a3a3a" stroke-width="1.25"/>
<line x1="1910.6" y1="199.7" x2="1910.6" y2="205.3" stroke="#3a3a3a" stroke-width="1.25"/>
<line x1="1724.7" y1="226.6" x2="1779.5" y2="226.6" stroke="#3a3a3a" stroke-width="1.25"/>
<line x1="1724.7" y1="223.8" x2="1724.7" y2="229.4" stroke="#3a3a3a" stroke-width="1.25"/>
<line x1="1779.5" y1="223.8" x2="1779.5" y2="229.4" stroke="#3a3a3a" stroke-width="1.25"/>
<line x1="2042.8" y1="275.8" x2="2086.6" y2="275.8" stroke="#3a3a3a" stroke-width="1.25"/>
<line x1="2042.8" y1="273" x2="2042.8" y2="278.6" stroke="#3a3a3a" stroke-width="1.25"/>
<line x1="2086.6" y1="273" x2="2086.6" y2="278.6" stroke="#3a3a3a" stroke-width="1.25"/>
<line x1="1927.6" y1="300.4" x2="1988" y2="300.4" stroke="#3a3a3a" stroke-width="1.25"/>
<line x1="1927.6" y1="297.6" x2="1927.6" y2="303.2" stroke="#3a3a3a" stroke-width="1.25"/>
<line x1="1988" y1="297.6" x2="1988" y2="303.2" stroke="#3a3a3a" stroke-width="1.25"/>
<line x1="1959.6" y1="325" x2="2012.6" y2="325" stroke="#3a3a3a" stroke-width="1.25"/>
<line x1="1959.6" y1="322.2" x2="1959.6" y2="327.8" stroke="#3a3a3a" stroke-width="1.25"/>
<line x1="2012.6" y1="322.2" x2="2012.6" y2="327.8" stroke="#3a3a3a" stroke-width="1.25"/>
<line x1="1756" y1="349.6" x2="1835" y2="349.6" stroke="#3a3a3a" stroke-width="1.25"/>
<line x1="1756" y1="346.8" x2="1756" y2="352.4" stroke="#3a3a3a" stroke-width="1.25"/>
<line x1="1835" y1="346.8" x2="1835" y2="352.4" stroke="#3a3a3a" stroke-width="1.25"/>
<line x1="1910.4" y1="398.8" x2="1962.5" y2="398.8" stroke="#3a3a3a" stroke-width="1.25"/>
<line x1="1910.4" y1="396" x2="1910.4" y2="401.6" stroke="#3a3a3a" stroke-width="1.25"/>
<line x1="1962.5" y1="396" x2="1962.5" y2="401.6" stroke="#3a3a3a" stroke-width="1.25"/>
<line x1="1884.2" y1="423.4" x2="1941.2" y2="423.4" stroke="#3a3a3a" stroke-width="1.25"/>
<line x1="1884.2" y1="420.6" x2="1884.2" y2="426.2" stroke="#3a3a3a" stroke-width="1.25"/>
<line x1="1941.2" y1="420.6" x2="1941.2" y2="426.2" stroke="#3a3a3a" stroke-width="1.25"/>
<line x1="1982" y1="448" x2="2033.4" y2="448" stroke="#3a3a3a" stroke-width="1.25"/>
<line x1="1982" y1="445.2" x2="1982" y2="450.8" stroke="#3a3a3a" stroke-width="1.25"/>
<line x1="2033.4" y1="445.2" x2="2033.4" y2="450.8" stroke="#3a3a3a" stroke-width="1.25"/>
<line x1="1905.5" y1="472.6" x2="1950" y2="472.6" stroke="#3a3a3a" stroke-width="1.25"/>
<line x1="1905.5" y1="469.8" x2="1905.5" y2="475.4" stroke="#3a3a3a" stroke-width="1.25"/>
<line x1="1950" y1="469.8" x2="1950" y2="475.4" stroke="#3a3a3a" stroke-width="1.25"/>
<line x1="2014.4" y1="521.6" x2="2035" y2="521.6" stroke="#3a3a3a" stroke-width="1.25"/>
<line x1="2014.4" y1="518.8" x2="2014.4" y2="524.4" stroke="#3a3a3a" stroke-width="1.25"/>
<line x1="2035" y1="518.8" x2="2035" y2="524.4" stroke="#3a3a3a" stroke-width="1.25"/>
<line x1="1860.5" y1="545.7" x2="1888.5" y2="545.7" stroke="#3a3a3a" stroke-width="1.25"/>
<line x1="1860.5" y1="542.9" x2="1860.5" y2="548.5" stroke="#3a3a3a" stroke-width="1.25"/>
<line x1="1888.5" y1="542.9" x2="1888.5" y2="548.5" stroke="#3a3a3a" stroke-width="1.25"/>
<line x1="1982.4" y1="570.5" x2="2011.5" y2="570.5" stroke="#3a3a3a" stroke-width="1.25"/>
<line x1="1982.4" y1="567.7" x2="1982.4" y2="573.3" stroke="#3a3a3a" stroke-width="1.25"/>
<line x1="2011.5" y1="567.7" x2="2011.5" y2="573.3" stroke="#3a3a3a" stroke-width="1.25"/>
<line x1="1884.6" y1="594.9" x2="1913.7" y2="594.9" stroke="#3a3a3a" stroke-width="1.25"/>
<line x1="1884.6" y1="592.1" x2="1884.6" y2="597.7" stroke="#3a3a3a" stroke-width="1.25"/>
<line x1="1913.7" y1="592.1" x2="1913.7" y2="597.7" stroke="#3a3a3a" stroke-width="1.25"/>
<text x="2135.81" y="170.68" font-size="33.43" fill="#231f20" textLength="25.53" lengthAdjust="spacingAndGlyphs">**</text>
<text x="1819.33" y="193.68" font-size="33.43" fill="#231f20" textLength="12.11" lengthAdjust="spacingAndGlyphs">*</text>
<text x="1691.79" y="245.18" font-size="33.43" fill="#231f20" textLength="26.67" lengthAdjust="spacingAndGlyphs">**</text>
<text x="2094.39" y="293.68" font-size="33.43" fill="#231f20" textLength="26.26" lengthAdjust="spacingAndGlyphs">**</text>
<text x="1730.56" y="367.18" font-size="33.43" fill="#231f20" textLength="11.35" lengthAdjust="spacingAndGlyphs">*</text>
<text x="2046.98" y="539.18" font-size="33.43" fill="#231f20" textLength="27.09" lengthAdjust="spacingAndGlyphs">**</text>
<text x="1826.49" y="563.78" font-size="33.43" fill="#231f20" textLength="26.67" lengthAdjust="spacingAndGlyphs">**</text>
<text x="2020.5" y="587.18" font-size="33.43" fill="#231f20" textLength="12.97" lengthAdjust="spacingAndGlyphs">*</text>
<text x="1865.13" y="612.98" font-size="33.43" fill="#231f20" textLength="12.11" lengthAdjust="spacingAndGlyphs">*</text>
<text x="1444.44" y="199.4" font-size="24.1" fill="#231f20" textLength="237.13" lengthAdjust="spacingAndGlyphs">Hypercholesterolemia</text>
<text x="1514.32" y="319.7" font-size="24.1" fill="#231f20" textLength="168.13" lengthAdjust="spacingAndGlyphs">Type 2 diabetes</text>
<text x="1603" y="443.1" font-size="24.1" fill="#231f20" textLength="78.55" lengthAdjust="spacingAndGlyphs">Asthma</text>
<text x="1441.28" y="566.4" font-size="24.1" fill="#231f20" textLength="241.87" lengthAdjust="spacingAndGlyphs">Essential hypertension</text>
<text x="1573.19" y="238.9" font-size="24.1" font-style="italic" fill="#231f20" textLength="11.63" lengthAdjust="spacingAndGlyphs">n</text>
<text x="1591.25" y="238.6" font-size="24.1" fill="#231f20" textLength="11.62" lengthAdjust="spacingAndGlyphs">=</text>
<text x="1608.58" y="238.9" font-size="24.1" fill="#231f20" textLength="75.09" lengthAdjust="spacingAndGlyphs">32,986</text>
<text x="1577.39" y="362" font-size="24.1" font-style="italic" fill="#231f20" textLength="11.51" lengthAdjust="spacingAndGlyphs">n</text>
<text x="1596.09" y="361.7" font-size="24.1" fill="#231f20" textLength="11.14" lengthAdjust="spacingAndGlyphs">=</text>
<text x="1611.94" y="362" font-size="24.1" fill="#231f20" textLength="71.62" lengthAdjust="spacingAndGlyphs">18,458</text>
<text x="1573.87" y="483.6" font-size="24.1" font-style="italic" fill="#231f20" textLength="12.07" lengthAdjust="spacingAndGlyphs">n</text>
<text x="1593.42" y="483.3" font-size="24.1" fill="#231f20" textLength="10.78" lengthAdjust="spacingAndGlyphs">=</text>
<text x="1608.98" y="483.6" font-size="24.1" fill="#231f20" textLength="74.63" lengthAdjust="spacingAndGlyphs">25,485</text>
<text x="1578.69" y="608.4" font-size="24.1" font-style="italic" fill="#231f20" textLength="11.63" lengthAdjust="spacingAndGlyphs">n</text>
<text x="1597.49" y="608.1" font-size="24.1" fill="#231f20" textLength="11.14" lengthAdjust="spacingAndGlyphs">=</text>
<text x="1616.1" y="608.4" font-size="24.1" fill="#231f20" textLength="67.47" lengthAdjust="spacingAndGlyphs">76,313</text>
<line x1="1720.6" y1="632" x2="1720.6" y2="641.9" stroke="#4d4d4d" stroke-width="1.3"/>
<line x1="1833.3" y1="632" x2="1833.3" y2="641.9" stroke="#4d4d4d" stroke-width="1.3"/>
<line x1="1945.7" y1="632" x2="1945.7" y2="641.9" stroke="#4d4d4d" stroke-width="1.3"/>
<line x1="2058.3" y1="632" x2="2058.3" y2="641.9" stroke="#4d4d4d" stroke-width="1.3"/>
<text x="1693.44" y="672" font-size="23.4" fill="#231f20" textLength="48.38" lengthAdjust="spacingAndGlyphs">−0.4</text>
<text x="1807.98" y="672" font-size="23.4" fill="#231f20" textLength="46.48" lengthAdjust="spacingAndGlyphs">−0.2</text>
<text x="1937.68" y="672" font-size="23.4" fill="#231f20" textLength="15.06" lengthAdjust="spacingAndGlyphs">0</text>
<text x="2041.06" y="672" font-size="23.4" fill="#231f20" textLength="34.73" lengthAdjust="spacingAndGlyphs">0.2</text>
<text x="1765.17" y="717" font-size="28" fill="#231f20" textLength="316.85" lengthAdjust="spacingAndGlyphs">Standardized excess PRS</text>
<text x="1821.4" y="749.1" font-size="28" fill="#231f20" textLength="204.69" lengthAdjust="spacingAndGlyphs">in disease cases</text>
<circle cx="312.39" cy="1300.96" r="5.2" fill="#3174ba" fill-opacity="0.8"/>
<circle cx="328.09" cy="1240.76" r="5.2" fill="#3174ba" fill-opacity="0.8"/>
<circle cx="343.78" cy="1213.9" r="5.2" fill="#3174ba" fill-opacity="0.8"/>
<circle cx="359.48" cy="1213.9" r="5.2" fill="#3174ba" fill-opacity="0.8"/>
<circle cx="375.17" cy="1181.61" r="5.2" fill="#3174ba" fill-opacity="0.8"/>
<circle cx="390.87" cy="1167.4" r="5.2" fill="#3174ba" fill-opacity="0.8"/>
<circle cx="406.56" cy="1191.94" r="5.2" fill="#3174ba" fill-opacity="0.8"/>
<circle cx="422.26" cy="1247.48" r="5.2" fill="#3174ba" fill-opacity="0.8"/>
<circle cx="437.95" cy="1142.6" r="5.2" fill="#3174ba" fill-opacity="0.8"/>
<circle cx="453.65" cy="1202.79" r="5.2" fill="#3174ba" fill-opacity="0.8"/>
<circle cx="469.35" cy="1150.35" r="5.2" fill="#3174ba" fill-opacity="0.8"/>
<circle cx="485.04" cy="1171.79" r="5.2" fill="#3174ba" fill-opacity="0.8"/>
<circle cx="500.74" cy="1142.1" r="5.2" fill="#3174ba" fill-opacity="0.8"/>
<circle cx="516.43" cy="1163.3" r="5.2" fill="#3174ba" fill-opacity="0.8"/>
<circle cx="532.12" cy="1120.6" r="5.2" fill="#3174ba" fill-opacity="0.8"/>
<circle cx="547.82" cy="1111.1" r="5.2" fill="#3174ba" fill-opacity="0.8"/>
<circle cx="563.51" cy="1096.1" r="5.2" fill="#3174ba" fill-opacity="0.8"/>
<circle cx="579.21" cy="1114.2" r="5.2" fill="#3174ba" fill-opacity="0.8"/>
<circle cx="594.9" cy="1087.8" r="5.2" fill="#3174ba" fill-opacity="0.8"/>
<circle cx="610.6" cy="1138.7" r="5.2" fill="#3174ba" fill-opacity="0.8"/>
<circle cx="626.3" cy="1114.2" r="5.2" fill="#3174ba" fill-opacity="0.8"/>
<circle cx="641.99" cy="1129.2" r="5.2" fill="#3174ba" fill-opacity="0.8"/>
<circle cx="657.68" cy="1108" r="5.2" fill="#3174ba" fill-opacity="0.8"/>
<circle cx="673.38" cy="1096.1" r="5.2" fill="#3174ba" fill-opacity="0.8"/>
<circle cx="689.08" cy="1114.2" r="5.2" fill="#3174ba" fill-opacity="0.8"/>
<circle cx="704.77" cy="1090.4" r="5.2" fill="#3174ba" fill-opacity="0.8"/>
<circle cx="720.46" cy="1121" r="5.2" fill="#3174ba" fill-opacity="0.8"/>
<circle cx="736.16" cy="1117.8" r="5.2" fill="#3174ba" fill-opacity="0.8"/>
<circle cx="751.86" cy="1111.3" r="5.2" fill="#3174ba" fill-opacity="0.8"/>
<circle cx="767.55" cy="1101.5" r="5.2" fill="#3174ba" fill-opacity="0.8"/>
<circle cx="783.25" cy="1098" r="5.2" fill="#3174ba" fill-opacity="0.8"/>
<circle cx="798.94" cy="1083.4" r="5.2" fill="#3174ba" fill-opacity="0.8"/>
<circle cx="814.63" cy="1093" r="5.2" fill="#3174ba" fill-opacity="0.8"/>
<circle cx="830.33" cy="1087.8" r="5.2" fill="#3174ba" fill-opacity="0.8"/>
<circle cx="846.03" cy="1065.3" r="5.2" fill="#3174ba" fill-opacity="0.8"/>
<circle cx="861.72" cy="1067.4" r="5.2" fill="#3174ba" fill-opacity="0.8"/>
<circle cx="877.41" cy="1069.7" r="5.2" fill="#3174ba" fill-opacity="0.8"/>
<circle cx="893.11" cy="1074.4" r="5.2" fill="#3174ba" fill-opacity="0.8"/>
<circle cx="908.81" cy="1038.7" r="5.2" fill="#3174ba" fill-opacity="0.8"/>
<circle cx="924.5" cy="1082.1" r="5.2" fill="#3174ba" fill-opacity="0.8"/>
<circle cx="940.19" cy="1049.3" r="5.2" fill="#3174ba" fill-opacity="0.8"/>
<circle cx="955.89" cy="1040" r="5.2" fill="#3174ba" fill-opacity="0.8"/>
<circle cx="971.59" cy="1057.6" r="5.2" fill="#3174ba" fill-opacity="0.8"/>
<circle cx="987.28" cy="1033.8" r="5.2" fill="#3174ba" fill-opacity="0.8"/>
<circle cx="1002.97" cy="1055.5" r="5.2" fill="#3174ba" fill-opacity="0.8"/>
<circle cx="1018.67" cy="1019.3" r="5.2" fill="#3174ba" fill-opacity="0.8"/>
<circle cx="1034.37" cy="1027.1" r="5.2" fill="#3174ba" fill-opacity="0.8"/>
<circle cx="1050.06" cy="1038.7" r="5.2" fill="#3174ba" fill-opacity="0.8"/>
<circle cx="1065.76" cy="1001.3" r="5.2" fill="#3174ba" fill-opacity="0.8"/>
<circle cx="1081.45" cy="987.8" r="5.2" fill="#3174ba" fill-opacity="0.8"/>
<circle cx="312.39" cy="1294.5" r="5.2" fill="#d86b29" fill-opacity="0.8"/>
<circle cx="328.09" cy="1203.56" r="5.2" fill="#d86b29" fill-opacity="0.8"/>
<circle cx="343.78" cy="1294.5" r="5.2" fill="#d86b29" fill-opacity="0.8"/>
<circle cx="359.48" cy="1278.48" r="5.2" fill="#d86b29" fill-opacity="0.8"/>
<circle cx="375.17" cy="1359.08" r="5.2" fill="#d86b29" fill-opacity="0.8"/>
<circle cx="390.87" cy="1262.98" r="5.2" fill="#d86b29" fill-opacity="0.8"/>
<circle cx="406.56" cy="1359.08" r="5.2" fill="#d86b29" fill-opacity="0.8"/>
<circle cx="422.26" cy="1213.9" r="5.2" fill="#d86b29" fill-opacity="0.8"/>
<circle cx="437.95" cy="1168.69" r="5.2" fill="#d86b29" fill-opacity="0.8"/>
<circle cx="453.65" cy="1334.54" r="5.2" fill="#d86b29" fill-opacity="0.8"/>
<circle cx="469.35" cy="1213.9" r="5.2" fill="#d86b29" fill-opacity="0.8"/>
<circle cx="485.04" cy="1236.37" r="5.2" fill="#d86b29" fill-opacity="0.8"/>
<circle cx="500.74" cy="1249.3" r="5.2" fill="#d86b29" fill-opacity="0.8"/>
<circle cx="516.43" cy="1185.2" r="5.2" fill="#d86b29" fill-opacity="0.8"/>
<circle cx="532.12" cy="1213.9" r="5.2" fill="#d86b29" fill-opacity="0.8"/>
<circle cx="547.82" cy="1110.3" r="5.2" fill="#d86b29" fill-opacity="0.8"/>
<circle cx="563.51" cy="1153.7" r="5.2" fill="#d86b29" fill-opacity="0.8"/>
<circle cx="579.21" cy="1121.4" r="5.2" fill="#d86b29" fill-opacity="0.8"/>
<circle cx="594.9" cy="1160.9" r="5.2" fill="#d86b29" fill-opacity="0.8"/>
<circle cx="610.6" cy="1185.2" r="5.2" fill="#d86b29" fill-opacity="0.8"/>
<circle cx="626.3" cy="1185.2" r="5.2" fill="#d86b29" fill-opacity="0.8"/>
<circle cx="641.99" cy="1133.6" r="5.2" fill="#d86b29" fill-opacity="0.8"/>
<circle cx="657.68" cy="1140" r="5.2" fill="#d86b29" fill-opacity="0.8"/>
<circle cx="673.38" cy="1160.9" r="5.2" fill="#d86b29" fill-opacity="0.8"/>
<circle cx="689.08" cy="1133.8" r="5.2" fill="#d86b29" fill-opacity="0.8"/>
<circle cx="704.77" cy="1120.9" r="5.2" fill="#d86b29" fill-opacity="0.8"/>
<circle cx="720.46" cy="1120.9" r="5.2" fill="#d86b29" fill-opacity="0.8"/>
<circle cx="736.16" cy="1093.7" r="5.2" fill="#d86b29" fill-opacity="0.8"/>
<circle cx="751.86" cy="1055.5" r="5.2" fill="#d86b29" fill-opacity="0.8"/>
<circle cx="767.55" cy="1059.4" r="5.2" fill="#d86b29" fill-opacity="0.8"/>
<circle cx="783.25" cy="1127.3" r="5.2" fill="#d86b29" fill-opacity="0.8"/>
<circle cx="798.94" cy="1083.4" r="5.2" fill="#d86b29" fill-opacity="0.8"/>
<circle cx="814.63" cy="1110" r="5.2" fill="#d86b29" fill-opacity="0.8"/>
<circle cx="830.33" cy="1070.5" r="5.2" fill="#d86b29" fill-opacity="0.8"/>
<circle cx="846.03" cy="1094.3" r="5.2" fill="#d86b29" fill-opacity="0.8"/>
<circle cx="861.72" cy="1067.4" r="5.2" fill="#d86b29" fill-opacity="0.8"/>
<circle cx="877.41" cy="1089.9" r="5.2" fill="#d86b29" fill-opacity="0.8"/>
<circle cx="893.11" cy="1036.9" r="5.2" fill="#d86b29" fill-opacity="0.8"/>
<circle cx="908.81" cy="1071.8" r="5.2" fill="#d86b29" fill-opacity="0.8"/>
<circle cx="924.5" cy="1005.9" r="5.2" fill="#d86b29" fill-opacity="0.8"/>
<circle cx="940.19" cy="1067.4" r="5.2" fill="#d86b29" fill-opacity="0.8"/>
<circle cx="955.89" cy="1035.6" r="5.2" fill="#d86b29" fill-opacity="0.8"/>
<circle cx="971.59" cy="1033" r="5.2" fill="#d86b29" fill-opacity="0.8"/>
<circle cx="987.28" cy="1009.8" r="5.2" fill="#d86b29" fill-opacity="0.8"/>
<circle cx="1002.97" cy="1000.2" r="5.2" fill="#d86b29" fill-opacity="0.8"/>
<circle cx="1018.67" cy="1000.2" r="5.2" fill="#d86b29" fill-opacity="0.8"/>
<circle cx="1034.37" cy="953.7" r="5.2" fill="#d86b29" fill-opacity="0.8"/>
<circle cx="1050.06" cy="962" r="5.2" fill="#d86b29" fill-opacity="0.8"/>
<circle cx="1065.76" cy="953.7" r="5.2" fill="#d86b29" fill-opacity="0.8"/>
<circle cx="1081.45" cy="925.8" r="5.2" fill="#d86b29" fill-opacity="0.8"/>
<polygon points="312.39,1198.8 320.09,1196.97 327.78,1195.13 335.47,1193.29 343.16,1191.46 350.85,1189.62 358.54,1187.78 366.23,1185.93 373.92,1184.09 381.61,1182.25 389.3,1180.4 396.99,1178.55 404.68,1176.7 412.37,1174.85 420.06,1172.99 427.75,1171.14 435.44,1169.28 443.13,1167.42 450.82,1165.55 458.52,1163.69 466.21,1161.82 473.9,1159.95 481.59,1158.07 489.28,1156.2 496.97,1154.31 504.66,1152.43 512.35,1150.54 520.04,1148.65 527.73,1146.75 535.42,1144.85 543.11,1142.95 550.8,1141.04 558.49,1139.12 566.18,1137.2 573.87,1135.28 581.56,1133.35 589.25,1131.41 596.95,1129.46 604.64,1127.52 612.33,1125.56 620.02,1123.6 627.71,1121.63 635.4,1119.65 643.09,1117.66 650.78,1115.67 658.47,1113.67 666.16,1111.66 673.85,1109.64 681.54,1107.62 689.23,1105.58 696.92,1103.54 704.61,1101.49 712.3,1099.43 719.99,1097.37 727.68,1095.29 735.38,1093.21 743.07,1091.12 750.76,1089.02 758.45,1086.91 766.14,1084.8 773.83,1082.68 781.52,1080.55 789.21,1078.41 796.9,1076.27 804.59,1074.12 812.28,1071.97 819.97,1069.8 827.66,1067.64 835.35,1065.47 843.04,1063.29 850.73,1061.11 858.42,1058.92 866.11,1056.73 873.81,1054.53 881.5,1052.33 889.19,1050.13 896.88,1047.92 904.57,1045.71 912.26,1043.5 919.95,1041.28 927.64,1039.06 935.33,1036.84 943.02,1034.61 950.71,1032.38 958.4,1030.15 966.09,1027.92 973.78,1025.68 981.47,1023.44 989.16,1021.2 996.85,1018.96 1004.54,1016.72 1012.24,1014.47 1019.93,1012.23 1027.62,1009.98 1035.31,1007.73 1043,1005.48 1050.69,1003.22 1058.38,1000.97 1066.07,998.71 1073.76,996.46 1081.45,994.2 1081.45,1022.8 1073.76,1024.63 1066.07,1026.47 1058.38,1028.31 1050.69,1030.14 1043,1031.98 1035.31,1033.82 1027.62,1035.67 1019.93,1037.51 1012.24,1039.35 1004.54,1041.2 996.85,1043.05 989.16,1044.9 981.47,1046.75 973.78,1048.61 966.09,1050.46 958.4,1052.32 950.71,1054.18 943.02,1056.05 935.33,1057.91 927.64,1059.78 919.95,1061.65 912.26,1063.53 904.57,1065.4 896.88,1067.29 889.19,1069.17 881.5,1071.06 873.81,1072.95 866.11,1074.85 858.42,1076.75 850.73,1078.65 843.04,1080.56 835.35,1082.48 827.66,1084.4 819.97,1086.32 812.28,1088.25 804.59,1090.19 796.9,1092.14 789.21,1094.08 781.52,1096.04 773.83,1098 766.14,1099.97 758.45,1101.95 750.76,1103.94 743.07,1105.93 735.38,1107.93 727.68,1109.94 719.99,1111.96 712.3,1113.98 704.61,1116.02 696.92,1118.06 689.23,1120.11 681.54,1122.17 673.85,1124.23 666.16,1126.31 658.47,1128.39 650.78,1130.48 643.09,1132.58 635.4,1134.69 627.71,1136.8 620.02,1138.92 612.33,1141.05 604.64,1143.19 596.95,1145.33 589.25,1147.48 581.56,1149.63 573.87,1151.8 566.18,1153.96 558.49,1156.13 550.8,1158.31 543.11,1160.49 535.42,1162.68 527.73,1164.87 520.04,1167.07 512.35,1169.27 504.66,1171.47 496.97,1173.68 489.28,1175.89 481.59,1178.1 473.9,1180.32 466.21,1182.54 458.52,1184.76 450.82,1186.99 443.13,1189.22 435.44,1191.45 427.75,1193.68 420.06,1195.92 412.37,1198.16 404.68,1200.4 396.99,1202.64 389.3,1204.88 381.61,1207.13 373.92,1209.37 366.23,1211.62 358.54,1213.87 350.85,1216.12 343.16,1218.38 335.47,1220.63 327.78,1222.89 320.09,1225.14 312.39,1227.4" fill="#4473bb" fill-opacity="0.6"/>
<line x1="312.39" y1="1213.1" x2="1081.45" y2="1008.5" stroke="#1874b8" stroke-width="4.2" stroke-linecap="butt"/>
<polygon points="312.39,1272.5 320.09,1269.54 327.78,1266.58 335.47,1263.61 343.16,1260.64 350.85,1257.67 358.54,1254.7 366.23,1251.73 373.92,1248.75 381.61,1245.77 389.3,1242.79 396.99,1239.81 404.68,1236.82 412.37,1233.83 420.06,1230.84 427.75,1227.84 435.44,1224.84 443.13,1221.84 450.82,1218.83 458.52,1215.82 466.21,1212.8 473.9,1209.78 481.59,1206.76 489.28,1203.72 496.97,1200.69 504.66,1197.65 512.35,1194.6 520.04,1191.54 527.73,1188.48 535.42,1185.42 543.11,1182.34 550.8,1179.26 558.49,1176.17 566.18,1173.07 573.87,1169.97 581.56,1166.85 589.25,1163.72 596.95,1160.59 604.64,1157.44 612.33,1154.29 620.02,1151.12 627.71,1147.94 635.4,1144.75 643.09,1141.55 650.78,1138.33 658.47,1135.11 666.16,1131.87 673.85,1128.62 681.54,1125.35 689.23,1122.07 696.92,1118.78 704.61,1115.47 712.3,1112.15 719.99,1108.82 727.68,1105.48 735.38,1102.12 743.07,1098.75 750.76,1095.36 758.45,1091.97 766.14,1088.56 773.83,1085.14 781.52,1081.71 789.21,1078.27 796.9,1074.81 804.59,1071.35 812.28,1067.88 819.97,1064.4 827.66,1060.91 835.35,1057.41 843.04,1053.9 850.73,1050.38 858.42,1046.86 866.11,1043.33 873.81,1039.79 881.5,1036.25 889.19,1032.7 896.88,1029.14 904.57,1025.58 912.26,1022.01 919.95,1018.44 927.64,1014.86 935.33,1011.28 943.02,1007.69 950.71,1004.1 958.4,1000.51 966.09,996.91 973.78,993.31 981.47,989.71 989.16,986.1 996.85,982.49 1004.54,978.87 1012.24,975.26 1019.93,971.64 1027.62,968.02 1035.31,964.39 1043,960.76 1050.69,957.14 1058.38,953.5 1066.07,949.87 1073.76,946.24 1081.45,942.6 1081.45,988.2 1073.76,991.16 1066.07,994.12 1058.38,997.09 1050.69,1000.06 1043,1003.03 1035.31,1006 1027.62,1008.97 1019.93,1011.95 1012.24,1014.93 1004.54,1017.91 996.85,1020.89 989.16,1023.88 981.47,1026.87 973.78,1029.86 966.09,1032.86 958.4,1035.86 950.71,1038.86 943.02,1041.87 935.33,1044.88 927.64,1047.9 919.95,1050.92 912.26,1053.94 904.57,1056.98 896.88,1060.01 889.19,1063.05 881.5,1066.1 873.81,1069.16 866.11,1072.22 858.42,1075.28 850.73,1078.36 843.04,1081.44 835.35,1084.53 827.66,1087.63 819.97,1090.73 812.28,1093.85 804.59,1096.98 796.9,1100.11 789.21,1103.26 781.52,1106.41 773.83,1109.58 766.14,1112.76 758.45,1115.95 750.76,1119.15 743.07,1122.37 735.38,1125.59 727.68,1128.83 719.99,1132.08 712.3,1135.35 704.61,1138.63 696.92,1141.92 689.23,1145.23 681.54,1148.55 673.85,1151.88 666.16,1155.22 658.47,1158.58 650.78,1161.95 643.09,1165.34 635.4,1168.73 627.71,1172.14 620.02,1175.56 612.33,1178.99 604.64,1182.43 596.95,1185.89 589.25,1189.35 581.56,1192.82 573.87,1196.3 566.18,1199.79 558.49,1203.29 550.8,1206.8 543.11,1210.32 535.42,1213.84 527.73,1217.37 520.04,1220.91 512.35,1224.45 504.66,1228 496.97,1231.56 489.28,1235.12 481.59,1238.69 473.9,1242.26 466.21,1245.84 458.52,1249.42 450.82,1253.01 443.13,1256.6 435.44,1260.19 427.75,1263.79 420.06,1267.39 412.37,1270.99 404.68,1274.6 396.99,1278.21 389.3,1281.83 381.61,1285.44 373.92,1289.06 366.23,1292.68 358.54,1296.31 350.85,1299.94 343.16,1303.56 335.47,1307.2 327.78,1310.83 320.09,1314.46 312.39,1318.1" fill="#da732b" fill-opacity="0.6"/>
<line x1="312.39" y1="1295.3" x2="1081.45" y2="965.4" stroke="#d96524" stroke-width="4.2" stroke-linecap="butt"/>
<line x1="273.6" y1="905" x2="273.6" y2="1380.85" stroke="#4d4d4d" stroke-width="1.3"/>
<line x1="272.95" y1="1380.2" x2="1120.6" y2="1380.2" stroke="#4d4d4d" stroke-width="1.3"/>
<line x1="264.9" y1="940.3" x2="273.6" y2="940.3" stroke="#4d4d4d" stroke-width="1.3"/>
<line x1="264.9" y1="1098.1" x2="273.6" y2="1098.1" stroke="#4d4d4d" stroke-width="1.3"/>
<line x1="264.9" y1="1256.2" x2="273.6" y2="1256.2" stroke="#4d4d4d" stroke-width="1.3"/>
<line x1="296.6" y1="1380.2" x2="296.6" y2="1388.9" stroke="#4d4d4d" stroke-width="1.3"/>
<line x1="493" y1="1380.2" x2="493" y2="1388.9" stroke="#4d4d4d" stroke-width="1.3"/>
<line x1="689.7" y1="1380.2" x2="689.7" y2="1388.9" stroke="#4d4d4d" stroke-width="1.3"/>
<line x1="885.7" y1="1380.2" x2="885.7" y2="1388.9" stroke="#4d4d4d" stroke-width="1.3"/>
<line x1="1082" y1="1380.2" x2="1082" y2="1388.9" stroke="#4d4d4d" stroke-width="1.3"/>
<circle cx="1353.38" cy="1300.96" r="5.2" fill="#3174ba" fill-opacity="0.8"/>
<circle cx="1368.67" cy="1242.06" r="5.2" fill="#3174ba" fill-opacity="0.8"/>
<circle cx="1383.95" cy="1211.31" r="5.2" fill="#3174ba" fill-opacity="0.8"/>
<circle cx="1399.24" cy="1236.63" r="5.2" fill="#3174ba" fill-opacity="0.8"/>
<circle cx="1414.52" cy="1215.96" r="5.2" fill="#3174ba" fill-opacity="0.8"/>
<circle cx="1429.8" cy="1149.06" r="5.2" fill="#3174ba" fill-opacity="0.8"/>
<circle cx="1445.09" cy="1149.06" r="5.2" fill="#3174ba" fill-opacity="0.8"/>
<circle cx="1460.37" cy="1231.46" r="5.2" fill="#3174ba" fill-opacity="0.8"/>
<circle cx="1475.66" cy="1226.3" r="5.2" fill="#3174ba" fill-opacity="0.8"/>
<circle cx="1490.94" cy="1178.25" r="5.2" fill="#3174ba" fill-opacity="0.8"/>
<circle cx="1506.22" cy="1169.72" r="5.2" fill="#3174ba" fill-opacity="0.8"/>
<circle cx="1521.51" cy="1201.5" r="5.2" fill="#3174ba" fill-opacity="0.8"/>
<circle cx="1536.79" cy="1110.6" r="5.2" fill="#3174ba" fill-opacity="0.8"/>
<circle cx="1552.08" cy="1110.6" r="5.2" fill="#3174ba" fill-opacity="0.8"/>
<circle cx="1567.36" cy="1114.5" r="5.2" fill="#3174ba" fill-opacity="0.8"/>
<circle cx="1582.64" cy="1083.5" r="5.2" fill="#3174ba" fill-opacity="0.8"/>
<circle cx="1597.93" cy="1137" r="5.2" fill="#3174ba" fill-opacity="0.8"/>
<circle cx="1613.21" cy="1182.7" r="5.2" fill="#3174ba" fill-opacity="0.8"/>
<circle cx="1628.5" cy="1178.3" r="5.2" fill="#3174ba" fill-opacity="0.8"/>
<circle cx="1643.78" cy="1144.2" r="5.2" fill="#3174ba" fill-opacity="0.8"/>
<circle cx="1659.06" cy="1125.3" r="5.2" fill="#3174ba" fill-opacity="0.8"/>
<circle cx="1674.35" cy="1103.9" r="5.2" fill="#3174ba" fill-opacity="0.8"/>
<circle cx="1689.63" cy="1122" r="5.2" fill="#3174ba" fill-opacity="0.8"/>
<circle cx="1704.92" cy="1096.9" r="5.2" fill="#3174ba" fill-opacity="0.8"/>
<circle cx="1720.2" cy="1144.4" r="5.2" fill="#3174ba" fill-opacity="0.8"/>
<circle cx="1735.48" cy="1107.4" r="5.2" fill="#3174ba" fill-opacity="0.8"/>
<circle cx="1750.77" cy="1100.2" r="5.2" fill="#3174ba" fill-opacity="0.8"/>
<circle cx="1766.05" cy="1161.4" r="5.2" fill="#3174ba" fill-opacity="0.8"/>
<circle cx="1781.34" cy="1086.5" r="5.2" fill="#3174ba" fill-opacity="0.8"/>
<circle cx="1796.62" cy="1153.2" r="5.2" fill="#3174ba" fill-opacity="0.8"/>
<circle cx="1811.9" cy="1106.7" r="5.2" fill="#3174ba" fill-opacity="0.8"/>
<circle cx="1827.19" cy="1157" r="5.2" fill="#3174ba" fill-opacity="0.8"/>
<circle cx="1842.47" cy="1089.9" r="5.2" fill="#3174ba" fill-opacity="0.8"/>
<circle cx="1857.76" cy="1196.6" r="5.2" fill="#3174ba" fill-opacity="0.8"/>
<circle cx="1873.04" cy="1061.5" r="5.2" fill="#3174ba" fill-opacity="0.8"/>
<circle cx="1888.32" cy="1086.5" r="5.2" fill="#3174ba" fill-opacity="0.8"/>
<circle cx="1903.61" cy="1083.9" r="5.2" fill="#3174ba" fill-opacity="0.8"/>
<circle cx="1918.89" cy="1157" r="5.2" fill="#3174ba" fill-opacity="0.8"/>
<circle cx="1934.18" cy="1064" r="5.2" fill="#3174ba" fill-opacity="0.8"/>
<circle cx="1949.46" cy="1064" r="5.2" fill="#3174ba" fill-opacity="0.8"/>
<circle cx="1964.74" cy="992.5" r="5.2" fill="#3174ba" fill-opacity="0.8"/>
<circle cx="1980.03" cy="1077" r="5.2" fill="#3174ba" fill-opacity="0.8"/>
<circle cx="1995.31" cy="1096.8" r="5.2" fill="#3174ba" fill-opacity="0.8"/>
<circle cx="2010.6" cy="1111.1" r="5.2" fill="#3174ba" fill-opacity="0.8"/>
<circle cx="2025.88" cy="1100.2" r="5.2" fill="#3174ba" fill-opacity="0.8"/>
<circle cx="2041.16" cy="1086.5" r="5.2" fill="#3174ba" fill-opacity="0.8"/>
<circle cx="2056.45" cy="1153.2" r="5.2" fill="#3174ba" fill-opacity="0.8"/>
<circle cx="2071.73" cy="1032.3" r="5.2" fill="#3174ba" fill-opacity="0.8"/>
<circle cx="2087.02" cy="1114.4" r="5.2" fill="#3174ba" fill-opacity="0.8"/>
<circle cx="2102.3" cy="1020.9" r="5.2" fill="#3174ba" fill-opacity="0.8"/>
<circle cx="1353.38" cy="1359.08" r="5.2" fill="#d86b29" fill-opacity="0.8"/>
<circle cx="1368.67" cy="1317.75" r="5.2" fill="#d86b29" fill-opacity="0.8"/>
<circle cx="1383.95" cy="1334.02" r="5.2" fill="#d86b29" fill-opacity="0.8"/>
<circle cx="1399.24" cy="1300.96" r="5.2" fill="#d86b29" fill-opacity="0.8"/>
<circle cx="1414.52" cy="1277.71" r="5.2" fill="#d86b29" fill-opacity="0.8"/>
<circle cx="1429.8" cy="1250.06" r="5.2" fill="#d86b29" fill-opacity="0.8"/>
<circle cx="1445.09" cy="1266.08" r="5.2" fill="#d86b29" fill-opacity="0.8"/>
<circle cx="1460.37" cy="1257.81" r="5.2" fill="#d86b29" fill-opacity="0.8"/>
<circle cx="1475.66" cy="1223.46" r="5.2" fill="#d86b29" fill-opacity="0.8"/>
<circle cx="1490.94" cy="1233.01" r="5.2" fill="#d86b29" fill-opacity="0.8"/>
<circle cx="1506.22" cy="1227.33" r="5.2" fill="#d86b29" fill-opacity="0.8"/>
<circle cx="1521.51" cy="1248" r="5.2" fill="#d86b29" fill-opacity="0.8"/>
<circle cx="1536.79" cy="1169" r="5.2" fill="#d86b29" fill-opacity="0.8"/>
<circle cx="1552.08" cy="1192" r="5.2" fill="#d86b29" fill-opacity="0.8"/>
<circle cx="1567.36" cy="1180.9" r="5.2" fill="#d86b29" fill-opacity="0.8"/>
<circle cx="1582.64" cy="1180.9" r="5.2" fill="#d86b29" fill-opacity="0.8"/>
<circle cx="1597.93" cy="1192.5" r="5.2" fill="#d86b29" fill-opacity="0.8"/>
<circle cx="1613.21" cy="1166.7" r="5.2" fill="#d86b29" fill-opacity="0.8"/>
<circle cx="1628.5" cy="1183.5" r="5.2" fill="#d86b29" fill-opacity="0.8"/>
<circle cx="1643.78" cy="1169.8" r="5.2" fill="#d86b29" fill-opacity="0.8"/>
<circle cx="1659.06" cy="1155" r="5.2" fill="#d86b29" fill-opacity="0.8"/>
<circle cx="1674.35" cy="1158.4" r="5.2" fill="#d86b29" fill-opacity="0.8"/>
<circle cx="1689.63" cy="1131" r="5.2" fill="#d86b29" fill-opacity="0.8"/>
<circle cx="1704.92" cy="1153.7" r="5.2" fill="#d86b29" fill-opacity="0.8"/>
<circle cx="1720.2" cy="1129.6" r="5.2" fill="#d86b29" fill-opacity="0.8"/>
<circle cx="1735.48" cy="1138" r="5.2" fill="#d86b29" fill-opacity="0.8"/>
<circle cx="1750.77" cy="1120.1" r="5.2" fill="#d86b29" fill-opacity="0.8"/>
<circle cx="1766.05" cy="1133.8" r="5.2" fill="#d86b29" fill-opacity="0.8"/>
<circle cx="1781.34" cy="1141.5" r="5.2" fill="#d86b29" fill-opacity="0.8"/>
<circle cx="1796.62" cy="1120" r="5.2" fill="#d86b29" fill-opacity="0.8"/>
<circle cx="1811.9" cy="1100.2" r="5.2" fill="#d86b29" fill-opacity="0.8"/>
<circle cx="1827.19" cy="1104" r="5.2" fill="#d86b29" fill-opacity="0.8"/>
<circle cx="1842.47" cy="1074.4" r="5.2" fill="#d86b29" fill-opacity="0.8"/>
<circle cx="1857.76" cy="1087.3" r="5.2" fill="#d86b29" fill-opacity="0.8"/>
<circle cx="1873.04" cy="1091.7" r="5.2" fill="#d86b29" fill-opacity="0.8"/>
<circle cx="1888.32" cy="1080" r="5.2" fill="#d86b29" fill-opacity="0.8"/>
<circle cx="1903.61" cy="1083.9" r="5.2" fill="#d86b29" fill-opacity="0.8"/>
<circle cx="1918.89" cy="1086.5" r="5.2" fill="#d86b29" fill-opacity="0.8"/>
<circle cx="1934.18" cy="1069.7" r="5.2" fill="#d86b29" fill-opacity="0.8"/>
<circle cx="1949.46" cy="1071" r="5.2" fill="#d86b29" fill-opacity="0.8"/>
<circle cx="1964.74" cy="1062.7" r="5.2" fill="#d86b29" fill-opacity="0.8"/>
<circle cx="1980.03" cy="1039.5" r="5.2" fill="#d86b29" fill-opacity="0.8"/>
<circle cx="1995.31" cy="1051.1" r="5.2" fill="#d86b29" fill-opacity="0.8"/>
<circle cx="2010.6" cy="1011.6" r="5.2" fill="#d86b29" fill-opacity="0.8"/>
<circle cx="2025.88" cy="1018.1" r="5.2" fill="#d86b29" fill-opacity="0.8"/>
<circle cx="2041.16" cy="1008.5" r="5.2" fill="#d86b29" fill-opacity="0.8"/>
<circle cx="2056.45" cy="1006.4" r="5.2" fill="#d86b29" fill-opacity="0.8"/>
<circle cx="2071.73" cy="1012.9" r="5.2" fill="#d86b29" fill-opacity="0.8"/>
<circle cx="2087.02" cy="968.5" r="5.2" fill="#d86b29" fill-opacity="0.8"/>
<circle cx="2102.3" cy="925.8" r="5.2" fill="#d86b29" fill-opacity="0.8"/>
<polygon points="1353.38,1182.7 1360.87,1181.57 1368.36,1180.44 1375.85,1179.31 1383.34,1178.18 1390.83,1177.04 1398.32,1175.9 1405.81,1174.76 1413.3,1173.62 1420.79,1172.47 1428.28,1171.33 1435.76,1170.17 1443.25,1169.02 1450.74,1167.86 1458.23,1166.7 1465.72,1165.54 1473.21,1164.37 1480.7,1163.2 1488.19,1162.02 1495.68,1160.84 1503.17,1159.65 1510.66,1158.46 1518.15,1157.27 1525.63,1156.07 1533.12,1154.86 1540.61,1153.65 1548.1,1152.43 1555.59,1151.2 1563.08,1149.97 1570.57,1148.73 1578.06,1147.49 1585.55,1146.23 1593.04,1144.97 1600.53,1143.7 1608.02,1142.42 1615.5,1141.13 1622.99,1139.83 1630.48,1138.51 1637.97,1137.19 1645.46,1135.86 1652.95,1134.52 1660.44,1133.16 1667.93,1131.79 1675.42,1130.41 1682.91,1129.02 1690.4,1127.61 1697.89,1126.19 1705.37,1124.76 1712.86,1123.31 1720.35,1121.85 1727.84,1120.37 1735.33,1118.88 1742.82,1117.38 1750.31,1115.86 1757.8,1114.33 1765.29,1112.78 1772.78,1111.22 1780.27,1109.65 1787.76,1108.06 1795.24,1106.47 1802.73,1104.86 1810.22,1103.23 1817.71,1101.6 1825.2,1099.96 1832.69,1098.3 1840.18,1096.64 1847.67,1094.96 1855.16,1093.27 1862.65,1091.58 1870.14,1089.88 1877.63,1088.17 1885.11,1086.45 1892.6,1084.72 1900.09,1082.99 1907.58,1081.25 1915.07,1079.5 1922.56,1077.74 1930.05,1075.98 1937.54,1074.22 1945.03,1072.45 1952.52,1070.67 1960.01,1068.89 1967.5,1067.11 1974.98,1065.32 1982.47,1063.52 1989.96,1061.73 1997.45,1059.93 2004.94,1058.12 2012.43,1056.31 2019.92,1054.5 2027.41,1052.69 2034.9,1050.87 2042.39,1049.05 2049.88,1047.23 2057.37,1045.4 2064.85,1043.57 2072.34,1041.74 2079.83,1039.91 2087.32,1038.07 2094.81,1036.24 2102.3,1034.4 2102.3,1082.4 2094.81,1083.53 2087.32,1084.66 2079.83,1085.79 2072.34,1086.92 2064.85,1088.06 2057.37,1089.2 2049.88,1090.34 2042.39,1091.48 2034.9,1092.63 2027.41,1093.77 2019.92,1094.93 2012.43,1096.08 2004.94,1097.24 1997.45,1098.4 1989.96,1099.56 1982.47,1100.73 1974.98,1101.9 1967.5,1103.08 1960.01,1104.26 1952.52,1105.45 1945.03,1106.64 1937.54,1107.83 1930.05,1109.03 1922.56,1110.24 1915.07,1111.45 1907.58,1112.67 1900.09,1113.9 1892.6,1115.13 1885.11,1116.37 1877.63,1117.61 1870.14,1118.87 1862.65,1120.13 1855.16,1121.4 1847.67,1122.68 1840.18,1123.97 1832.69,1125.27 1825.2,1126.59 1817.71,1127.91 1810.22,1129.24 1802.73,1130.58 1795.24,1131.94 1787.76,1133.31 1780.27,1134.69 1772.78,1136.08 1765.29,1137.49 1757.8,1138.91 1750.31,1140.34 1742.82,1141.79 1735.33,1143.25 1727.84,1144.73 1720.35,1146.22 1712.86,1147.72 1705.37,1149.24 1697.89,1150.77 1690.4,1152.32 1682.91,1153.88 1675.42,1155.45 1667.93,1157.04 1660.44,1158.63 1652.95,1160.24 1645.46,1161.87 1637.97,1163.5 1630.48,1165.14 1622.99,1166.8 1615.5,1168.46 1608.02,1170.14 1600.53,1171.83 1593.04,1173.52 1585.55,1175.22 1578.06,1176.93 1570.57,1178.65 1563.08,1180.38 1555.59,1182.11 1548.1,1183.85 1540.61,1185.6 1533.12,1187.36 1525.63,1189.12 1518.15,1190.88 1510.66,1192.65 1503.17,1194.43 1495.68,1196.21 1488.19,1197.99 1480.7,1199.78 1473.21,1201.58 1465.72,1203.37 1458.23,1205.17 1450.74,1206.98 1443.25,1208.79 1435.76,1210.6 1428.28,1212.41 1420.79,1214.23 1413.3,1216.05 1405.81,1217.87 1398.32,1219.7 1390.83,1221.53 1383.34,1223.36 1375.85,1225.19 1368.36,1227.03 1360.87,1228.86 1353.38,1230.7" fill="#4473bb" fill-opacity="0.6"/>
<line x1="1353.38" y1="1206.7" x2="2102.3" y2="1058.4" stroke="#1874b8" stroke-width="4.2" stroke-linecap="butt"/>
<polygon points="1353.38,1288.2 1360.87,1285.2 1368.36,1282.21 1375.85,1279.21 1383.34,1276.21 1390.83,1273.21 1398.32,1270.21 1405.81,1267.2 1413.3,1264.2 1420.79,1261.19 1428.28,1258.19 1435.76,1255.18 1443.25,1252.17 1450.74,1249.16 1458.23,1246.14 1465.72,1243.13 1473.21,1240.11 1480.7,1237.09 1488.19,1234.07 1495.68,1231.05 1503.17,1228.02 1510.66,1224.99 1518.15,1221.96 1525.63,1218.93 1533.12,1215.89 1540.61,1212.85 1548.1,1209.81 1555.59,1206.76 1563.08,1203.72 1570.57,1200.66 1578.06,1197.61 1585.55,1194.54 1593.04,1191.48 1600.53,1188.41 1608.02,1185.34 1615.5,1182.26 1622.99,1179.17 1630.48,1176.08 1637.97,1172.99 1645.46,1169.89 1652.95,1166.78 1660.44,1163.67 1667.93,1160.55 1675.42,1157.42 1682.91,1154.29 1690.4,1151.15 1697.89,1148.01 1705.37,1144.86 1712.86,1141.7 1720.35,1138.53 1727.84,1135.36 1735.33,1132.18 1742.82,1128.99 1750.31,1125.8 1757.8,1122.59 1765.29,1119.38 1772.78,1116.17 1780.27,1112.95 1787.76,1109.72 1795.24,1106.48 1802.73,1103.24 1810.22,1099.99 1817.71,1096.74 1825.2,1093.48 1832.69,1090.22 1840.18,1086.95 1847.67,1083.67 1855.16,1080.39 1862.65,1077.11 1870.14,1073.82 1877.63,1070.53 1885.11,1067.23 1892.6,1063.93 1900.09,1060.62 1907.58,1057.31 1915.07,1054 1922.56,1050.69 1930.05,1047.37 1937.54,1044.05 1945.03,1040.73 1952.52,1037.4 1960.01,1034.07 1967.5,1030.74 1974.98,1027.41 1982.47,1024.08 1989.96,1020.74 1997.45,1017.4 2004.94,1014.06 2012.43,1010.72 2019.92,1007.37 2027.41,1004.03 2034.9,1000.68 2042.39,997.33 2049.88,993.98 2057.37,990.63 2064.85,987.28 2072.34,983.92 2079.83,980.57 2087.32,977.21 2094.81,973.86 2102.3,970.5 2102.3,994.9 2094.81,997.9 2087.32,1000.89 2079.83,1003.89 2072.34,1006.89 2064.85,1009.89 2057.37,1012.89 2049.88,1015.9 2042.39,1018.9 2034.9,1021.91 2027.41,1024.91 2019.92,1027.92 2012.43,1030.93 2004.94,1033.94 1997.45,1036.96 1989.96,1039.97 1982.47,1042.99 1974.98,1046.01 1967.5,1049.03 1960.01,1052.05 1952.52,1055.08 1945.03,1058.11 1937.54,1061.14 1930.05,1064.17 1922.56,1067.21 1915.07,1070.25 1907.58,1073.29 1900.09,1076.34 1892.6,1079.38 1885.11,1082.44 1877.63,1085.49 1870.14,1088.56 1862.65,1091.62 1855.16,1094.69 1847.67,1097.76 1840.18,1100.84 1832.69,1103.93 1825.2,1107.02 1817.71,1110.11 1810.22,1113.21 1802.73,1116.32 1795.24,1119.43 1787.76,1122.55 1780.27,1125.68 1772.78,1128.81 1765.29,1131.95 1757.8,1135.09 1750.31,1138.24 1742.82,1141.4 1735.33,1144.57 1727.84,1147.74 1720.35,1150.92 1712.86,1154.11 1705.37,1157.3 1697.89,1160.51 1690.4,1163.72 1682.91,1166.93 1675.42,1170.15 1667.93,1173.38 1660.44,1176.62 1652.95,1179.86 1645.46,1183.11 1637.97,1186.36 1630.48,1189.62 1622.99,1192.88 1615.5,1196.15 1608.02,1199.43 1600.53,1202.71 1593.04,1205.99 1585.55,1209.28 1578.06,1212.57 1570.57,1215.87 1563.08,1219.17 1555.59,1222.48 1548.1,1225.79 1540.61,1229.1 1533.12,1232.41 1525.63,1235.73 1518.15,1239.05 1510.66,1242.37 1503.17,1245.7 1495.68,1249.03 1488.19,1252.36 1480.7,1255.69 1473.21,1259.02 1465.72,1262.36 1458.23,1265.7 1450.74,1269.04 1443.25,1272.38 1435.76,1275.73 1428.28,1279.07 1420.79,1282.42 1413.3,1285.77 1405.81,1289.12 1398.32,1292.47 1390.83,1295.82 1383.34,1299.18 1375.85,1302.53 1368.36,1305.89 1360.87,1309.24 1353.38,1312.6" fill="#da732b" fill-opacity="0.6"/>
<line x1="1353.38" y1="1300.4" x2="2102.3" y2="982.7" stroke="#d96524" stroke-width="4.2" stroke-linecap="butt"/>
<line x1="1315.6" y1="905" x2="1315.6" y2="1380.65" stroke="#4d4d4d" stroke-width="1.3"/>
<line x1="1314.95" y1="1380" x2="2140.7" y2="1380" stroke="#4d4d4d" stroke-width="1.3"/>
<line x1="1306.9" y1="999.3" x2="1315.6" y2="999.3" stroke="#4d4d4d" stroke-width="1.3"/>
<line x1="1306.9" y1="1127.2" x2="1315.6" y2="1127.2" stroke="#4d4d4d" stroke-width="1.3"/>
<line x1="1306.9" y1="1254.4" x2="1315.6" y2="1254.4" stroke="#4d4d4d" stroke-width="1.3"/>
<line x1="1337.8" y1="1380" x2="1337.8" y2="1388.7" stroke="#4d4d4d" stroke-width="1.3"/>
<line x1="1529.4" y1="1380" x2="1529.4" y2="1388.7" stroke="#4d4d4d" stroke-width="1.3"/>
<line x1="1720.1" y1="1380" x2="1720.1" y2="1388.7" stroke="#4d4d4d" stroke-width="1.3"/>
<line x1="1911.3" y1="1380" x2="1911.3" y2="1388.7" stroke="#4d4d4d" stroke-width="1.3"/>
<line x1="2102.9" y1="1380" x2="2102.9" y2="1388.7" stroke="#4d4d4d" stroke-width="1.3"/>
<rect x="303.1" y="924" width="67" height="65.7" fill="#d87a50"/>
<rect x="399.8" y="924" width="66.9" height="65.7" fill="#5b82bd"/>
<text x="315.28" y="1019.9" font-size="23.8" fill="#231f20" textLength="47.47" lengthAdjust="spacingAndGlyphs">CVD</text>
<text x="399.67" y="1019.9" font-size="23.8" fill="#231f20" textLength="69.82" lengthAdjust="spacingAndGlyphs">MGND</text>
<text x="243.24" y="949.3" font-size="23.4" fill="#231f20" textLength="10.8" lengthAdjust="spacingAndGlyphs">1</text>
<text x="238.73" y="1108" font-size="23.4" fill="#231f20" textLength="15.87" lengthAdjust="spacingAndGlyphs">0</text>
<text x="232.87" y="1266.1" font-size="23.4" fill="#231f20" textLength="24.66" lengthAdjust="spacingAndGlyphs">−1</text>
<text x="280.24" y="1418.9" font-size="23.4" fill="#231f20" textLength="33.07" lengthAdjust="spacingAndGlyphs">0%</text>
<text x="468.77" y="1418.9" font-size="23.4" fill="#231f20" textLength="45.2" lengthAdjust="spacingAndGlyphs">25%</text>
<text x="665.75" y="1418.9" font-size="23.4" fill="#231f20" textLength="47.46" lengthAdjust="spacingAndGlyphs">50%</text>
<text x="862.29" y="1418.9" font-size="23.4" fill="#231f20" textLength="44.36" lengthAdjust="spacingAndGlyphs">75%</text>
<text x="1050.41" y="1418.9" font-size="23.4" fill="#231f20" textLength="61.03" lengthAdjust="spacingAndGlyphs">100%</text>
<text x="603.56" y="1464.2" font-size="27.8" fill="#231f20" textLength="187.14" lengthAdjust="spacingAndGlyphs">PRS percentile</text>
<text transform="translate(201.6,1238.5) rotate(-90)" x="-1.89" y="0" font-size="27.8" fill="#231f20" textLength="194.3" lengthAdjust="spacingAndGlyphs">log relative risk</text>
<text x="545.38" y="878.8" font-size="27.8" fill="#231f20" textLength="303.76" lengthAdjust="spacingAndGlyphs">Disease: type 2 diabetes</text>
<rect x="1364.9" y="924" width="66.6" height="65.5" fill="#d87a50"/>
<rect x="1461.2" y="924" width="66.3" height="65.5" fill="#5b82bd"/>
<text x="1378.49" y="1017.8" font-size="23.8" fill="#231f20" textLength="46.94" lengthAdjust="spacingAndGlyphs">CVD</text>
<text x="1460.96" y="1017.8" font-size="23.8" fill="#231f20" textLength="70.13" lengthAdjust="spacingAndGlyphs">MGND</text>
<text x="1261.15" y="1007.8" font-size="23.4" fill="#231f20" textLength="35.04" lengthAdjust="spacingAndGlyphs">0.4</text>
<text x="1281.48" y="1137" font-size="23.4" fill="#231f20" textLength="15.06" lengthAdjust="spacingAndGlyphs">0</text>
<text x="1248.14" y="1264.2" font-size="23.4" fill="#231f20" textLength="48.07" lengthAdjust="spacingAndGlyphs">−0.4</text>
<text x="1321.83" y="1418.9" font-size="23.4" fill="#231f20" textLength="33.49" lengthAdjust="spacingAndGlyphs">0%</text>
<text x="1505.58" y="1418.9" font-size="23.4" fill="#231f20" textLength="44.78" lengthAdjust="spacingAndGlyphs">25%</text>
<text x="1697.35" y="1418.9" font-size="23.4" fill="#231f20" textLength="47.46" lengthAdjust="spacingAndGlyphs">50%</text>
<text x="1888.31" y="1418.9" font-size="23.4" fill="#231f20" textLength="43.63" lengthAdjust="spacingAndGlyphs">75%</text>
<text x="2072.13" y="1418.9" font-size="23.4" fill="#231f20" textLength="60.19" lengthAdjust="spacingAndGlyphs">100%</text>
<text x="1633.64" y="1464.2" font-size="27.8" fill="#231f20" textLength="188.26" lengthAdjust="spacingAndGlyphs">PRS percentile</text>
<text transform="translate(1217.2,1238.1) rotate(-90)" x="-1.89" y="0" font-size="27.8" fill="#231f20" textLength="193.49" lengthAdjust="spacingAndGlyphs">log relative risk</text>
<text x="1532.02" y="878.8" font-size="27.8" fill="#231f20" textLength="389.24" lengthAdjust="spacingAndGlyphs">Disease: hypercholesterolemia</text>
</svg></body></html>
